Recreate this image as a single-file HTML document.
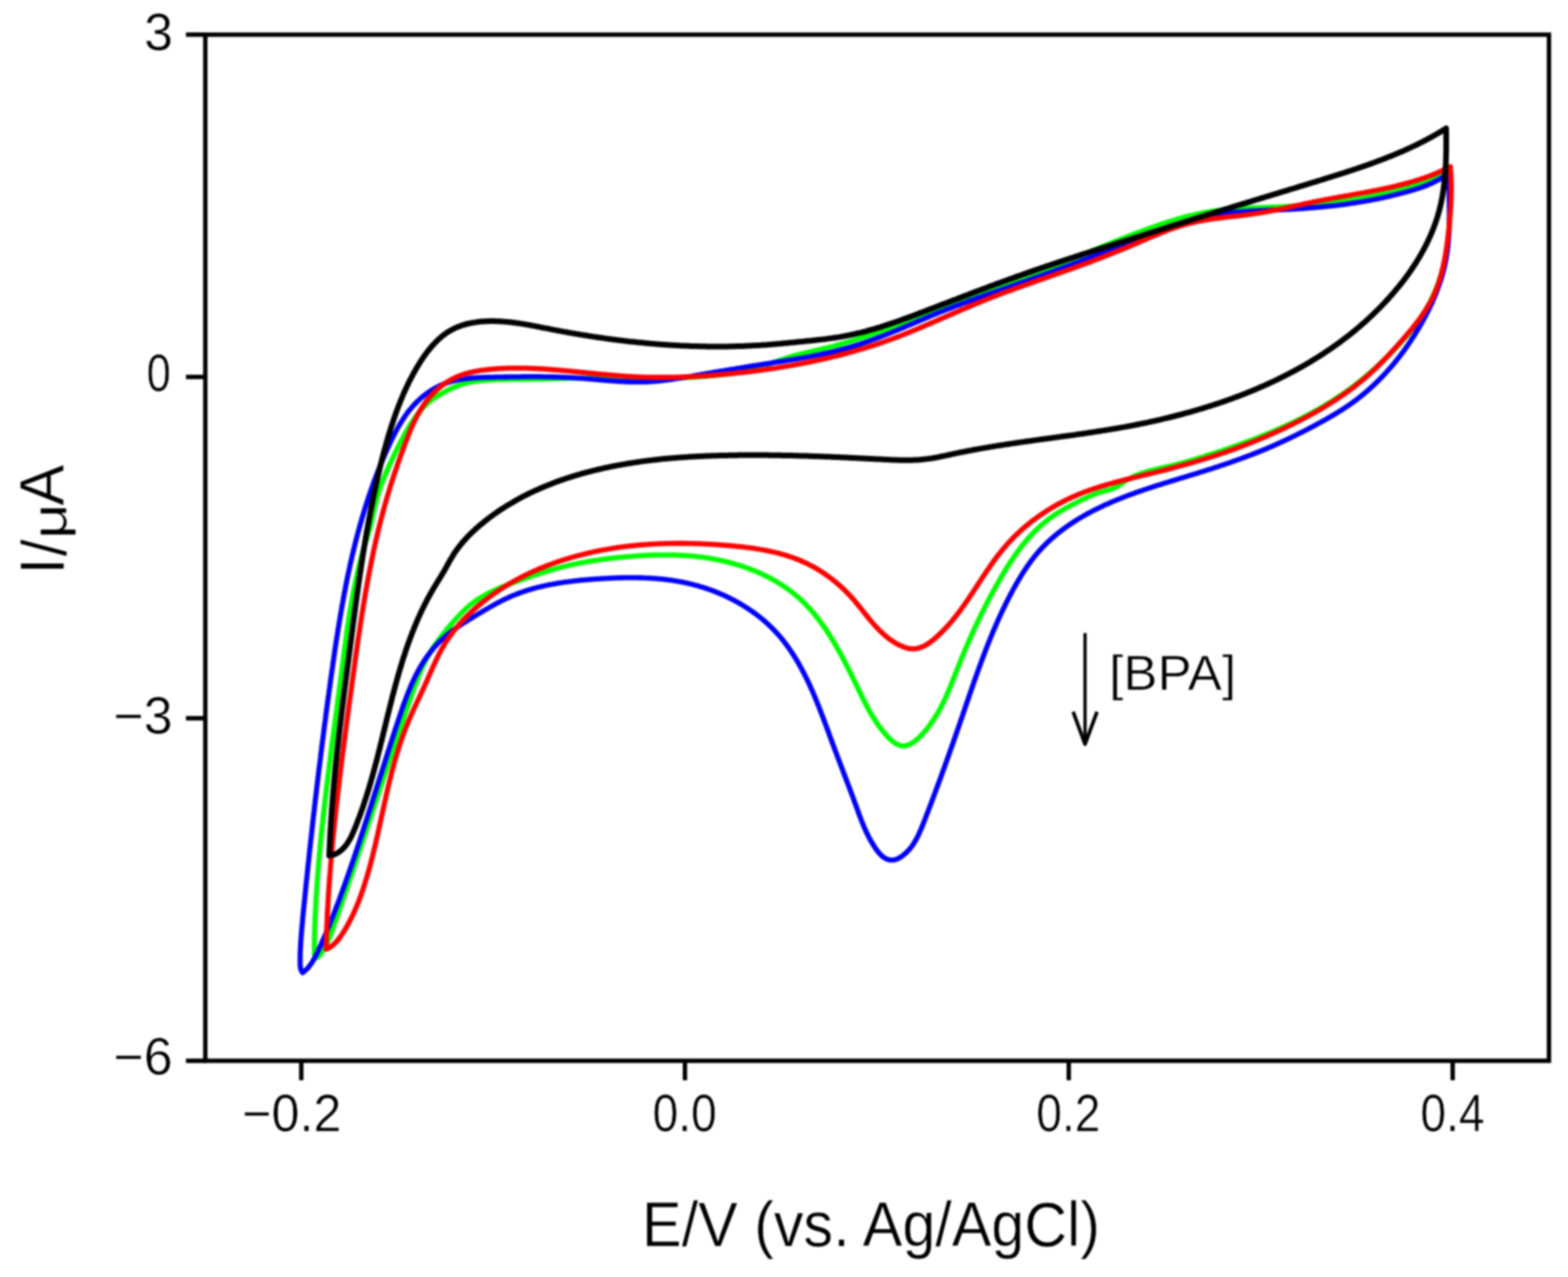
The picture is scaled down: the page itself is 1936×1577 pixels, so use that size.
<!DOCTYPE html>
<html><head><meta charset="utf-8"><style>
html,body{margin:0;padding:0;background:#fff;}
body{width:1936px;height:1577px;overflow:hidden;}
svg{display:block;}
#wrap{filter:blur(0.8px);width:1936px;height:1577px;}
text{font-family:"Liberation Sans",Arial,sans-serif;fill:#000;stroke:#fff;stroke-width:0.6px;paint-order:normal;}
</style></head><body>
<div id="wrap"><svg width="1936" height="1577" viewBox="0 0 1936 1577">
<g id="axes" stroke="#000" stroke-width="5.4" fill="none">
<rect x="253.5" y="42.8" width="1659" height="1267.2"/>
<path d="M229.6 42.8H254M229.6 465.5H254M229.6 887H254M229.6 1310H254"/>
<path d="M372 1310V1334M845.7 1310V1334M1319.6 1310V1334M1793.6 1310V1334"/>
</g>
<g id="ylabels" font-size="64" text-anchor="end">
<text x="213.5" y="61.7">3</text>
<text transform="translate(211,0) scale(0.84,1) translate(-211,0)" x="211" y="483">0</text>
<text x="213" y="905.6">&#8722;3</text>
<text x="213" y="1327.3">&#8722;6</text>
</g>
<g id="xlabels" font-size="64" text-anchor="middle">
<text transform="translate(360.2,0) scale(0.97,1) translate(-360.2,0)" x="360.2" y="1396.8">&#8722;0.2</text>
<text transform="translate(845.3,0) scale(0.89,1) translate(-845.3,0)" x="845.3" y="1396.8">0.0</text>
<text transform="translate(1319.1,0) scale(0.89,1) translate(-1319.1,0)" x="1319.1" y="1396.8">0.2</text>
<text transform="translate(1793.4,0) scale(0.89,1) translate(-1793.4,0)" x="1793.4" y="1396.8">0.4</text>
</g>
<text transform="translate(1075.5,1538.5) scale(0.93,1)" font-size="78.7" text-anchor="middle">E/V (vs. Ag/AgCl)</text>
<g transform="translate(79.3,0) rotate(-90)" font-size="76">
<text x="-709.4" y="0" transform="scale(1,1.03)">I</text>
<text x="-687.1" y="2.4" transform="scale(1,1.03)">/</text>
<text x="-665.6" y="3.7" transform="scale(1,0.8)">&#956;</text>
<text x="-624.6" y="0" transform="scale(1,1.03)">A</text>
</g>
<text transform="translate(1447.9,852.4) scale(1.018,1)" font-size="62" text-anchor="middle">[BPA]</text>
<g id="arrow" stroke="#000" fill="none" stroke-width="4">
<path d="M1339.7 781.7V918"/>
<path d="M1325 879L1339.7 919L1354.5 879" stroke-width="4.5" stroke-linejoin="round"/>
</g>
<g id="curves" fill="none" stroke-linejoin="round" stroke-linecap="round">
<path stroke="#00ff00" stroke-width="6.3" d="M389.0 1183.0L388.7 1181.0 388.5 1179.0 388.4 1177.1 388.3 1175.1 388.2 1173.1 388.2 1171.1 388.2 1169.1 388.2 1167.1 388.2 1165.1 388.3 1163.1 388.3 1161.2 388.3 1159.2 388.4 1157.2 388.4 1155.2 388.4 1153.2 388.5 1151.2 388.5 1149.2 388.6 1147.2 388.7 1145.2 388.7 1143.2 388.8 1141.2 388.9 1139.2 388.9 1137.2 389.0 1135.2 389.1 1133.2 389.2 1131.2 389.3 1129.2 389.4 1127.1 389.5 1125.1 389.6 1123.1 389.7 1121.1 389.8 1119.1 389.9 1117.1 390.0 1115.1 390.1 1113.1 390.2 1111.1 390.3 1109.1 390.4 1107.1 390.6 1105.1 390.7 1103.1 390.8 1101.1 391.0 1099.0 391.1 1097.0 391.2 1095.0 391.4 1093.0 391.5 1091.0 391.6 1089.0 391.8 1087.0 391.9 1085.0 392.1 1083.0 392.2 1081.0 392.4 1079.0 392.6 1077.0 392.7 1075.0 392.9 1073.0 393.0 1071.0 393.2 1069.0 393.4 1067.0 393.5 1065.0 393.7 1063.0 393.9 1061.0 394.1 1059.0 394.2 1057.0 394.4 1055.0 394.6 1053.0 394.8 1051.0 395.0 1049.0 395.1 1047.0 395.3 1045.0 395.5 1043.0 395.7 1041.0 395.9 1039.0 396.1 1037.0 396.3 1035.0 396.5 1033.1 396.7 1031.1 396.9 1029.1 397.1 1027.1 397.3 1025.1 397.5 1023.1 397.7 1021.1 397.9 1019.1 398.2 1017.1 398.4 1015.1 398.6 1013.1 398.8 1011.2 399.0 1009.2 399.2 1007.2 399.5 1005.2 399.7 1003.2 399.9 1001.2 400.1 999.2 400.3 997.2 400.6 995.2 400.8 993.3 401.0 991.3 401.3 989.3 401.5 987.3 401.7 985.3 402.0 983.3 402.2 981.3 402.4 979.3 402.7 977.4 402.9 975.4 403.1 973.4 403.4 971.4 403.6 969.4 403.9 967.4 404.1 965.4 404.4 963.5 404.6 961.5 404.9 959.5 405.1 957.5 405.3 955.5 405.6 953.5 405.8 951.6 406.1 949.6 406.3 947.6 406.6 945.6 406.8 943.6 407.1 941.6 407.4 939.6 407.6 937.7 407.9 935.7 408.1 933.7 408.4 931.7 408.6 929.7 408.9 927.7 409.1 925.8 409.4 923.8 409.7 921.8 409.9 919.8 410.2 917.8 410.4 915.8 410.7 913.9 411.0 911.9 411.2 909.9 411.5 907.9 411.8 905.9 412.0 903.9 412.3 902.0 412.5 900.0 412.8 898.0 413.1 896.0 413.3 894.0 413.6 892.0 413.9 890.0 414.1 888.1 414.4 886.1 414.6 884.1 414.9 882.1 415.2 880.1 415.4 878.1 415.7 876.2 416.0 874.2 416.2 872.2 416.5 870.2 416.8 868.2 417.0 866.2 417.3 864.2 417.5 862.2 417.8 860.3 418.1 858.3 418.3 856.3 418.6 854.3 418.9 852.3 419.1 850.3 419.4 848.3 419.6 846.3 419.9 844.4 420.2 842.4 420.4 840.4 420.7 838.4 420.9 836.4 421.2 834.4 421.5 832.4 421.7 830.4 422.0 828.4 422.2 826.4 422.5 824.5 422.7 822.5 423.0 820.5 423.2 818.5 423.5 816.5 423.8 814.5 424.0 812.5 424.3 810.5 424.5 808.5 424.8 806.5 425.0 804.5 425.3 802.5 425.6 800.6 425.8 798.6 426.1 796.6 426.4 794.6 426.6 792.6 426.9 790.6 427.2 788.6 427.4 786.6 427.7 784.6 428.0 782.6 428.3 780.7 428.5 778.7 428.8 776.7 429.1 774.7 429.4 772.7 429.7 770.7 430.0 768.7 430.3 766.8 430.6 764.8 430.9 762.8 431.2 760.8 431.5 758.8 431.8 756.9 432.1 754.9 432.5 752.9 432.8 750.9 433.1 749.0 433.5 747.0 433.8 745.0 434.1 743.0 434.5 741.1 434.8 739.1 435.2 737.1 435.6 735.2 435.9 733.2 436.3 731.2 436.7 729.3 437.1 727.3 437.5 725.4 437.9 723.4 438.3 721.5 438.7 719.5 439.1 717.5 439.5 715.6 439.9 713.7 440.4 711.7 440.8 709.8 441.3 707.8 441.7 705.9 442.2 703.9 442.6 702.0 443.1 700.1 443.6 698.1 444.1 696.2 444.6 694.3 445.1 692.3 445.6 690.4 446.1 688.5 446.6 686.6 447.2 684.6 447.7 682.7 448.3 680.8 448.8 678.9 449.4 677.0 449.9 675.1 450.5 673.2 451.1 671.2 451.6 669.3 452.2 667.4 452.8 665.5 453.3 663.6 453.9 661.7 454.5 659.8 455.0 657.9 455.6 655.9 456.1 654.0 456.6 652.1 457.2 650.2 457.7 648.2 458.2 646.3 458.7 644.3 459.1 642.4 459.6 640.4 460.0 638.4 460.4 636.4 460.9 634.5 461.3 632.5 461.7 630.5 462.1 628.5 462.6 626.6 463.0 624.6 463.5 622.6 464.0 620.7 464.4 618.7 465.0 616.8 465.5 614.9 466.0 612.9 466.6 611.0 467.2 609.1 467.8 607.2 468.4 605.3 469.0 603.4 469.7 601.5 470.4 599.7 471.0 597.8 471.7 595.9 472.5 594.1 473.2 592.2 473.9 590.4 474.7 588.5 475.4 586.7 476.2 584.9 477.0 583.0 477.8 581.2 478.6 579.4 479.4 577.6 480.2 575.7 481.0 573.9 481.9 572.1 482.7 570.3 483.5 568.5 484.4 566.7 485.3 564.9 486.1 563.0 487.0 561.2 487.9 559.4 488.7 557.6 489.6 555.8 490.5 554.0 491.4 552.2 492.3 550.4 493.2 548.6 494.1 546.8 495.0 545.0 496.0 543.2 496.9 541.4 497.8 539.7 498.8 537.9 499.8 536.1 500.7 534.4 501.7 532.6 502.7 530.9 503.8 529.2 504.8 527.4 505.8 525.7 506.9 524.0 508.0 522.3 509.1 520.7 510.2 519.0 511.3 517.4 512.5 515.7 513.6 514.1 514.8 512.5 516.0 510.9 517.2 509.4 518.5 507.8 519.8 506.3 521.1 504.8 522.4 503.4 523.8 501.9 525.2 500.5 526.6 499.2 528.1 497.8 529.6 496.5 531.1 495.3 532.7 494.0 534.3 492.9 536.0 491.7 537.6 490.6 539.3 489.5 541.1 488.4 542.8 487.4 544.5 486.4 546.3 485.4 548.1 484.4 549.9 483.4 551.7 482.5 553.5 481.6 555.3 480.7 557.1 479.8 558.9 479.0 560.8 478.2 562.6 477.4 564.5 476.6 566.4 475.9 568.2 475.2 570.1 474.6 572.0 474.0 573.9 473.5 575.9 473.0 577.8 472.5 579.7 472.1 581.7 471.7 583.6 471.4 585.6 471.1 587.5 470.8 589.5 470.6 591.5 470.3 593.5 470.1 595.4 469.9 597.4 469.8 599.4 469.6 601.4 469.5 603.4 469.3 605.4 469.2 607.4 469.1 609.4 469.0 611.4 468.9 613.4 468.8 615.4 468.7 617.4 468.7 619.4 468.6 621.4 468.6 623.4 468.5 625.4 468.5 627.4 468.5 629.4 468.4 631.4 468.4 633.5 468.4 635.5 468.4 637.5 468.4 639.5 468.4 641.5 468.3 643.5 468.3 645.5 468.3 647.5 468.3 649.5 468.3 651.5 468.3 653.6 468.3 655.6 468.2 657.6 468.2 659.6 468.2 661.6 468.2 663.6 468.1 665.6 468.1 667.6 468.0 669.6 468.0 671.6 468.0 673.6 467.9 675.6 467.9 677.6 467.8 679.6 467.8 681.6 467.7 683.6 467.7 685.6 467.6 687.6 467.6 689.6 467.5 691.6 467.4 693.6 467.4 695.5 467.3 697.5 467.3 699.5 467.2 701.5 467.2 703.5 467.2 705.5 467.1 707.5 467.1 709.5 467.0 711.5 467.0 713.5 467.0 715.5 466.9 717.5 466.9 719.5 466.9 721.5 466.9 723.5 466.9 725.5 466.9 727.5 466.9 729.5 466.8 731.5 466.8 733.5 466.8 735.5 466.8 737.5 466.8 739.5 466.9 741.5 466.9 743.5 466.9 745.5 466.9 747.5 466.9 749.5 466.9 751.5 466.9 753.5 466.9 755.5 466.9 757.5 467.0 759.5 467.0 761.5 467.0 763.5 467.0 765.5 467.0 767.5 467.1 769.5 467.1 771.5 467.1 773.5 467.1 775.5 467.1 777.5 467.1 779.5 467.2 781.5 467.2 783.5 467.2 785.5 467.2 787.5 467.2 789.5 467.2 791.5 467.2 793.5 467.2 795.5 467.2 797.5 467.2 799.5 467.2 801.5 467.2 803.5 467.2 805.5 467.2 807.5 467.2 809.5 467.2 811.6 467.2 813.6 467.2 815.6 467.2 817.6 467.1 819.6 467.1 821.6 467.1 823.6 467.0 825.6 467.0 827.6 467.0 829.6 466.9 831.6 466.9 833.6 466.8 835.6 466.8 837.6 466.7 839.6 466.6 841.6 466.5 843.6 466.5 845.6 466.4 847.6 466.3 849.6 466.2 851.6 466.1 853.6 466.0 855.6 465.9 857.6 465.8 859.6 465.6 861.6 465.5 863.6 465.4 865.6 465.2 867.6 465.1 869.6 464.9 871.6 464.8 873.6 464.6 875.6 464.4 877.6 464.2 879.6 464.1 881.6 463.9 883.6 463.6 885.6 463.4 887.6 463.2 889.6 463.0 891.6 462.7 893.6 462.5 895.6 462.2 897.6 462.0 899.6 461.7 901.6 461.4 903.5 461.1 905.5 460.8 907.5 460.5 909.5 460.1 911.5 459.8 913.4 459.4 915.4 459.0 917.4 458.6 919.3 458.2 921.3 457.8 923.2 457.3 925.2 456.8 927.1 456.3 929.1 455.8 931.0 455.3 932.9 454.7 934.8 454.2 936.7 453.6 938.7 453.0 940.6 452.4 942.5 451.8 944.4 451.2 946.3 450.6 948.2 449.9 950.0 449.3 951.9 448.6 953.8 448.0 955.7 447.3 957.6 446.7 959.5 446.1 961.4 445.4 963.3 444.8 965.2 444.1 967.1 443.5 969.0 442.9 970.9 442.3 972.8 441.7 974.7 441.1 976.6 440.5 978.5 439.9 980.5 439.4 982.4 438.9 984.3 438.3 986.2 437.8 988.2 437.3 990.1 436.8 992.1 436.4 994.0 435.9 996.0 435.4 997.9 435.0 999.9 434.5 1001.8 434.0 1003.8 433.6 1005.7 433.1 1007.7 432.7 1009.6 432.2 1011.6 431.8 1013.5 431.3 1015.5 430.9 1017.4 430.4 1019.4 429.9 1021.3 429.5 1023.2 429.0 1025.2 428.5 1027.1 428.0 1029.0 427.5 1031.0 427.0 1032.9 426.4 1034.8 425.9 1036.8 425.4 1038.7 424.8 1040.6 424.3 1042.5 423.7 1044.4 423.1 1046.4 422.6 1048.3 422.0 1050.2 421.4 1052.1 420.8 1054.0 420.2 1055.9 419.6 1057.8 419.0 1059.7 418.4 1061.6 417.8 1063.5 417.2 1065.4 416.6 1067.3 415.9 1069.2 415.3 1071.1 414.7 1073.0 414.0 1074.9 413.4 1076.8 412.7 1078.7 412.1 1080.6 411.4 1082.5 410.8 1084.4 410.1 1086.3 409.4 1088.1 408.8 1090.0 408.1 1091.9 407.4 1093.8 406.7 1095.7 406.0 1097.6 405.4 1099.4 404.7 1101.3 404.0 1103.2 403.3 1105.1 402.6 1107.0 401.9 1108.8 401.2 1110.7 400.5 1112.6 399.8 1114.5 399.1 1116.4 398.4 1118.2 397.7 1120.1 397.0 1122.0 396.3 1123.9 395.5 1125.7 394.8 1127.6 394.1 1129.5 393.4 1131.4 392.7 1133.2 392.0 1135.1 391.3 1137.0 390.6 1138.9 389.9 1140.7 389.1 1142.6 388.4 1144.5 387.7 1146.4 387.0 1148.3 386.3 1150.1 385.6 1152.0 384.9 1153.9 384.2 1155.8 383.5 1157.6 382.8 1159.5 382.1 1161.4 381.4 1163.3 380.7 1165.2 380.0 1167.1 379.3 1168.9 378.6 1170.8 377.9 1172.7 377.2 1174.6 376.5 1176.5 375.8 1178.4 375.2 1180.2 374.5 1182.1 373.8 1184.0 373.1 1185.9 372.4 1187.8 371.7 1189.7 371.1 1191.6 370.4 1193.4 369.7 1195.3 369.0 1197.2 368.3 1199.1 367.6 1201.0 367.0 1202.9 366.3 1204.8 365.6 1206.6 364.9 1208.5 364.2 1210.4 363.6 1212.3 362.9 1214.2 362.2 1216.1 361.5 1217.9 360.8 1219.8 360.1 1221.7 359.5 1223.6 358.8 1225.5 358.1 1227.4 357.4 1229.2 356.7 1231.1 356.0 1233.0 355.3 1234.9 354.7 1236.8 354.0 1238.6 353.3 1240.5 352.6 1242.4 351.9 1244.3 351.2 1246.2 350.5 1248.0 349.8 1249.9 349.1 1251.8 348.4 1253.6 347.7 1255.5 347.0 1257.4 346.3 1259.3 345.5 1261.1 344.8 1263.0 344.1 1264.9 343.4 1266.7 342.7 1268.6 342.0 1270.5 341.2 1272.3 340.5 1274.2 339.8 1276.0 339.0 1277.9 338.3 1279.8 337.6 1281.6 336.8 1283.5 336.1 1285.3 335.4 1287.2 334.6 1289.1 333.9 1290.9 333.1 1292.8 332.4 1294.6 331.7 1296.5 330.9 1298.3 330.2 1300.2 329.4 1302.0 328.7 1303.9 327.9 1305.7 327.2 1307.6 326.4 1309.5 325.7 1311.3 324.9 1313.2 324.1 1315.0 323.4 1316.9 322.6 1318.7 321.9 1320.6 321.1 1322.4 320.4 1324.3 319.6 1326.1 318.8 1328.0 318.1 1329.8 317.3 1331.7 316.6 1333.5 315.8 1335.4 315.0 1337.2 314.3 1339.1 313.5 1340.9 312.8 1342.8 312.0 1344.6 311.3 1346.5 310.5 1348.3 309.7 1350.2 309.0 1352.1 308.2 1353.9 307.5 1355.8 306.7 1357.6 306.0 1359.5 305.2 1361.3 304.5 1363.2 303.7 1365.1 303.0 1366.9 302.2 1368.8 301.5 1370.6 300.7 1372.5 300.0 1374.4 299.2 1376.2 298.5 1378.1 297.7 1380.0 297.0 1381.8 296.2 1383.7 295.5 1385.6 294.8 1387.4 294.0 1389.3 293.3 1391.2 292.6 1393.1 291.8 1394.9 291.1 1396.8 290.4 1398.7 289.7 1400.6 288.9 1402.5 288.2 1404.3 287.5 1406.2 286.8 1408.1 286.1 1410.0 285.4 1411.9 284.7 1413.8 284.0 1415.7 283.3 1417.6 282.6 1419.5 281.9 1421.4 281.2 1423.3 280.5 1425.1 279.9 1427.0 279.2 1429.0 278.5 1430.9 277.9 1432.8 277.2 1434.7 276.6 1436.6 276.0 1438.5 275.3 1440.4 274.7 1442.3 274.1 1444.2 273.5 1446.1 272.9 1448.1 272.3 1450.0 271.7 1451.9 271.2 1453.8 270.6 1455.8 270.0 1457.7 269.5 1459.6 269.0 1461.5 268.4 1463.5 267.9 1465.4 267.4 1467.3 266.9 1469.3 266.4 1471.2 266.0 1473.2 265.5 1475.1 265.1 1477.1 264.6 1479.0 264.2 1481.0 263.8 1482.9 263.4 1484.9 263.0 1486.8 262.6 1488.8 262.2 1490.7 261.9 1492.7 261.6 1494.7 261.2 1496.6 260.9 1498.6 260.6 1500.6 260.3 1502.5 260.1 1504.5 259.8 1506.5 259.6 1508.5 259.4 1510.5 259.1 1512.4 258.9 1514.4 258.7 1516.4 258.6 1518.4 258.4 1520.4 258.2 1522.4 258.1 1524.4 257.9 1526.4 257.8 1528.4 257.7 1530.3 257.5 1532.3 257.4 1534.3 257.3 1536.3 257.2 1538.3 257.1 1540.3 257.0 1542.3 256.9 1544.3 256.8 1546.3 256.7 1548.3 256.7 1550.4 256.6 1552.4 256.5 1554.4 256.4 1556.4 256.4 1558.4 256.3 1560.4 256.2 1562.4 256.1 1564.4 256.1 1566.4 256.0 1568.4 255.9 1570.4 255.8 1572.4 255.7 1574.4 255.7 1576.4 255.6 1578.4 255.5 1580.4 255.4 1582.4 255.3 1584.4 255.2 1586.5 255.1 1588.5 254.9 1590.5 254.8 1592.5 254.7 1594.5 254.6 1596.5 254.5 1598.5 254.3 1600.5 254.2 1602.5 254.1 1604.5 253.9 1606.5 253.8 1608.5 253.6 1610.5 253.5 1612.5 253.3 1614.5 253.1 1616.5 253.0 1618.5 252.8 1620.5 252.6 1622.5 252.5 1624.5 252.3 1626.5 252.1 1628.5 251.9 1630.5 251.7 1632.5 251.5 1634.5 251.3 1636.4 251.1 1638.4 250.8 1640.4 250.6 1642.4 250.4 1644.4 250.1 1646.4 249.9 1648.4 249.7 1650.4 249.4 1652.4 249.2 1654.3 248.9 1656.3 248.6 1658.3 248.4 1660.3 248.1 1662.3 247.8 1664.3 247.5 1666.2 247.2 1668.2 246.9 1670.2 246.6 1672.2 246.3 1674.2 246.0 1676.1 245.7 1678.1 245.3 1680.1 245.0 1682.1 244.7 1684.0 244.3 1686.0 244.0 1688.0 243.6 1689.9 243.2 1691.9 242.9 1693.9 242.5 1695.8 242.1 1697.8 241.7 1699.8 241.3 1701.7 240.9 1703.7 240.5 1705.6 240.1 1707.6 239.6 1709.5 239.2 1711.5 238.8 1713.4 238.3 1715.4 237.9 1717.3 237.4 1719.3 236.9 1721.2 236.5 1723.2 236.0 1725.1 235.5 1727.1 235.0 1729.0 234.5 1730.9 234.0 1732.9 233.4 1734.8 232.9 1736.8 232.4 1738.7 231.8 1740.6 231.3 1742.6 230.7 1744.5 230.2 1746.4 229.6 1748.3 229.0 1750.2 228.4 1752.1 227.8 1754.0 227.1 1755.9 226.5 1757.8 225.8 1759.7 225.1 1761.6 224.4 1763.4 223.7 1765.3 222.9 1767.1 222.2 1768.9 221.3 1770.8 220.5 1772.5 219.6 1774.3 218.7 1776.1 217.8 1777.8 216.8 1779.6 215.8 1781.3 214.8 1783.0 213.7 1784.6 212.6 1786.3 211.4 1787.9 210.2 1789.5 209.0 1789.6 211.0 1789.6 213.0 1789.7 214.9 1789.8 216.9 1789.8 218.9 1789.9 220.9 1790.0 222.9 1790.0 224.9 1790.1 226.9 1790.1 228.9 1790.2 230.9 1790.2 232.9 1790.3 234.9 1790.3 236.9 1790.3 238.9 1790.4 240.9 1790.4 242.9 1790.4 244.9 1790.4 246.9 1790.4 248.9 1790.4 251.0 1790.4 253.0 1790.4 255.0 1790.4 257.0 1790.4 259.0 1790.3 261.0 1790.3 263.0 1790.2 265.0 1790.2 267.0 1790.1 269.0 1790.0 271.1 1789.9 273.1 1789.8 275.1 1789.7 277.1 1789.6 279.1 1789.5 281.1 1789.3 283.1 1789.2 285.1 1789.0 287.1 1788.8 289.1 1788.6 291.1 1788.4 293.1 1788.2 295.1 1788.0 297.1 1787.7 299.1 1787.5 301.1 1787.2 303.0 1786.9 305.0 1786.6 307.0 1786.3 309.0 1786.0 311.0 1785.6 312.9 1785.3 314.9 1784.9 316.9 1784.5 318.8 1784.1 320.8 1783.6 322.8 1783.2 324.7 1782.7 326.7 1782.2 328.6 1781.8 330.5 1781.2 332.5 1780.7 334.4 1780.2 336.3 1779.6 338.3 1779.0 340.2 1778.4 342.1 1777.8 344.0 1777.2 345.9 1776.5 347.8 1775.9 349.6 1775.2 351.5 1774.5 353.4 1773.7 355.2 1773.0 357.1 1772.2 358.9 1771.5 360.8 1770.7 362.6 1769.9 364.4 1769.0 366.2 1768.2 368.0 1767.3 369.8 1766.4 371.6 1765.5 373.4 1764.6 375.1 1763.6 376.9 1762.7 378.6 1761.7 380.4 1760.7 382.1 1759.7 383.8 1758.6 385.5 1757.6 387.2 1756.5 388.9 1755.4 390.5 1754.3 392.2 1753.2 393.9 1752.0 395.5 1750.9 397.1 1749.7 398.7 1748.5 400.4 1747.3 402.0 1746.1 403.6 1744.9 405.1 1743.6 406.7 1742.4 408.3 1741.1 409.8 1739.8 411.4 1738.5 412.9 1737.2 414.5 1735.9 416.0 1734.6 417.5 1733.2 419.0 1731.9 420.5 1730.6 422.0 1729.2 423.5 1727.8 425.0 1726.5 426.5 1725.1 428.0 1723.7 429.4 1722.3 430.9 1720.9 432.3 1719.5 433.8 1718.1 435.2 1716.7 436.7 1715.3 438.1 1713.8 439.5 1712.4 440.9 1711.0 442.3 1709.5 443.8 1708.1 445.2 1706.6 446.5 1705.2 447.9 1703.7 449.3 1702.3 450.7 1700.8 452.0 1699.3 453.4 1697.8 454.7 1696.4 456.1 1694.9 457.4 1693.4 458.7 1691.9 460.1 1690.4 461.4 1688.8 462.7 1687.3 464.0 1685.8 465.3 1684.3 466.5 1682.7 467.8 1681.2 469.1 1679.6 470.3 1678.1 471.6 1676.5 472.8 1674.9 474.0 1673.4 475.2 1671.8 476.4 1670.2 477.6 1668.6 478.8 1667.0 480.0 1665.4 481.2 1663.8 482.3 1662.1 483.5 1660.5 484.6 1658.9 485.8 1657.2 486.9 1655.6 488.0 1653.9 489.1 1652.3 490.3 1650.6 491.3 1648.9 492.4 1647.3 493.5 1645.6 494.6 1643.9 495.6 1642.2 496.7 1640.5 497.8 1638.8 498.8 1637.1 499.8 1635.4 500.8 1633.7 501.9 1631.9 502.9 1630.2 503.9 1628.5 504.9 1626.8 505.9 1625.0 506.8 1623.3 507.8 1621.5 508.8 1619.8 509.7 1618.0 510.7 1616.2 511.6 1614.5 512.6 1612.7 513.5 1610.9 514.4 1609.2 515.3 1607.4 516.2 1605.6 517.1 1603.8 518.0 1602.0 518.9 1600.2 519.8 1598.4 520.7 1596.6 521.6 1594.8 522.4 1593.0 523.3 1591.2 524.1 1589.3 525.0 1587.5 525.8 1585.7 526.7 1583.9 527.5 1582.0 528.3 1580.2 529.1 1578.4 529.9 1576.5 530.7 1574.7 531.5 1572.8 532.3 1571.0 533.1 1569.1 533.9 1567.3 534.7 1565.4 535.4 1563.6 536.2 1561.7 537.0 1559.8 537.7 1558.0 538.5 1556.1 539.2 1554.2 540.0 1552.4 540.7 1550.5 541.4 1548.6 542.2 1546.7 542.9 1544.9 543.6 1543.0 544.3 1541.1 545.0 1539.2 545.7 1537.3 546.4 1535.4 547.1 1533.6 547.8 1531.7 548.5 1529.8 549.2 1527.9 549.9 1526.0 550.5 1524.1 551.2 1522.2 551.9 1520.3 552.5 1518.4 553.2 1516.5 553.8 1514.6 554.5 1512.7 555.1 1510.8 555.8 1509.0 556.4 1507.1 557.1 1505.2 557.7 1503.3 558.3 1501.4 558.9 1499.5 559.6 1497.6 560.2 1495.7 560.8 1493.8 561.4 1491.9 562.0 1490.0 562.6 1488.1 563.2 1486.2 563.8 1484.3 564.4 1482.4 565.0 1480.5 565.6 1478.6 566.2 1476.7 566.8 1474.8 567.4 1472.9 567.9 1471.0 568.5 1469.1 569.1 1467.2 569.6 1465.2 570.2 1463.3 570.7 1461.4 571.2 1459.5 571.8 1457.6 572.3 1455.6 572.8 1453.7 573.3 1451.8 573.8 1449.8 574.3 1447.9 574.8 1445.9 575.2 1444.0 575.7 1442.0 576.2 1440.0 576.6 1438.1 577.1 1436.1 577.5 1434.1 577.9 1432.1 578.4 1430.2 578.8 1428.2 579.3 1426.2 579.8 1424.3 580.3 1422.3 580.7 1420.4 581.3 1418.4 581.8 1416.5 582.3 1414.6 582.9 1412.7 583.5 1410.8 584.1 1408.9 584.7 1407.0 585.4 1405.1 586.1 1403.3 586.9 1401.5 587.6 1399.7 588.4 1397.9 589.3 1396.1 590.2 1394.3 591.1 1392.6 592.1 1390.9 593.1 1389.2 594.2 1387.5 595.3 1385.9 596.5 1384.2 597.6 1382.6 598.8 1380.9 599.9 1379.2 600.9 1377.4 601.9 1375.6 602.7 1373.7 603.5 1371.8 604.2 1369.9 604.8 1367.9 605.3 1366.0 605.8 1364.0 606.3 1362.0 606.8 1360.1 607.4 1358.2 608.0 1356.3 608.6 1354.4 609.2 1352.6 609.9 1350.8 610.6 1348.9 611.4 1347.1 612.1 1345.3 612.9 1343.5 613.7 1341.8 614.5 1340.0 615.3 1338.2 616.2 1336.4 617.0 1334.6 617.9 1332.8 618.8 1331.0 619.7 1329.2 620.6 1327.4 621.5 1325.6 622.4 1323.8 623.3 1322.0 624.3 1320.2 625.2 1318.4 626.2 1316.6 627.1 1314.9 628.1 1313.1 629.1 1311.3 630.2 1309.6 631.2 1307.8 632.2 1306.1 633.3 1304.4 634.4 1302.7 635.5 1301.0 636.6 1299.4 637.8 1297.8 639.0 1296.1 640.1 1294.5 641.3 1293.0 642.6 1291.4 643.8 1289.9 645.1 1288.3 646.3 1286.8 647.6 1285.3 648.9 1283.9 650.3 1282.4 651.6 1281.0 653.0 1279.5 654.4 1278.1 655.7 1276.7 657.2 1275.3 658.6 1274.0 660.0 1272.6 661.5 1271.3 662.9 1270.0 664.4 1268.7 665.9 1267.4 667.4 1266.1 668.9 1264.8 670.5 1263.6 672.0 1262.3 673.6 1261.1 675.1 1259.9 676.7 1258.7 678.3 1257.5 679.9 1256.3 681.5 1255.2 683.1 1254.0 684.7 1252.8 686.4 1251.7 688.0 1250.6 689.7 1249.5 691.3 1248.3 693.0 1247.2 694.7 1246.2 696.4 1245.1 698.1 1244.0 699.7 1242.9 701.5 1241.9 703.2 1240.8 704.9 1239.8 706.6 1238.7 708.3 1237.7 710.1 1236.7 711.8 1235.7 713.5 1234.7 715.3 1233.7 717.0 1232.7 718.8 1231.7 720.5 1230.7 722.3 1229.7 724.0 1228.7 725.8 1227.8 727.6 1226.8 729.3 1225.8 731.1 1224.9 732.9 1223.9 734.6 1223.0 736.4 1222.0 738.2 1221.1 740.0 1220.2 741.7 1219.2 743.5 1218.3 745.3 1217.4 747.1 1216.5 748.9 1215.6 750.7 1214.7 752.5 1213.8 754.3 1212.9 756.1 1212.0 757.9 1211.1 759.7 1210.2 761.5 1209.3 763.3 1208.5 765.1 1207.6 766.9 1206.7 768.7 1205.9 770.5 1205.0 772.3 1204.2 774.1 1203.3 776.0 1202.5 777.8 1201.7 779.6 1200.8 781.4 1200.0 783.2 1199.2 785.1 1198.4 786.9 1197.6 788.7 1196.8 790.6 1196.0 792.4 1195.2 794.2 1194.4 796.0 1193.6 797.9 1192.8 799.7 1192.0 801.6 1191.2 803.4 1190.5 805.2 1189.7 807.1 1188.9 808.9 1188.2 810.8 1187.4 812.6 1186.7 814.4 1185.9 816.3 1185.2 818.1 1184.4 820.0 1183.7 821.8 1183.0 823.7 1182.2 825.5 1181.5 827.4 1180.8 829.2 1180.1 831.1 1179.3 832.9 1178.6 834.8 1177.9 836.6 1177.2 838.5 1176.4 840.3 1175.7 842.2 1175.0 844.0 1174.2 845.9 1173.5 847.7 1172.7 849.5 1172.0 851.4 1171.2 853.2 1170.4 855.0 1169.6 856.8 1168.8 858.7 1168.0 860.5 1167.2 862.3 1166.3 864.1 1165.5 865.9 1164.6 867.7 1163.7 869.5 1162.8 871.3 1161.9 873.0 1160.9 874.8 1160.0 876.6 1159.0 878.3 1158.0 880.1 1157.0 881.8 1155.9 883.6 1154.9 885.3 1153.8 887.0 1152.7 888.7 1151.5 890.4 1150.3 892.1 1149.1 893.8 1147.9 895.5 1146.7 897.2 1145.4 898.8 1144.1 900.5 1142.7 902.1 1141.3 903.7 1139.9 905.3 1138.5 906.9 1137.0 908.5 1135.5 910.0 1134.0 911.5 1132.4 912.9 1130.8 914.3 1129.3 915.5 1127.6 916.7 1126.0 917.7 1124.4 918.7 1122.7 919.5 1121.1 920.1 1119.4 920.6 1117.8 921.0 1116.1 921.1 1114.4 921.1 1112.8 920.9 1111.1 920.5 1109.5 919.9 1107.8 919.2 1106.2 918.3 1104.6 917.3 1103.0 916.1 1101.4 914.9 1099.9 913.5 1098.3 912.1 1096.8 910.6 1095.3 909.0 1093.9 907.4 1092.5 905.7 1091.1 904.0 1089.7 902.4 1088.4 900.7 1087.1 899.0 1085.8 897.3 1084.6 895.6 1083.4 893.9 1082.2 892.2 1081.1 890.5 1080.0 888.8 1078.9 887.1 1077.8 885.4 1076.8 883.7 1075.8 882.0 1074.8 880.2 1073.8 878.5 1072.8 876.8 1071.9 875.1 1071.0 873.4 1070.1 871.7 1069.1 869.9 1068.3 868.2 1067.4 866.5 1066.5 864.7 1065.6 863.0 1064.8 861.3 1063.9 859.5 1063.0 857.8 1062.2 856.0 1061.3 854.2 1060.5 852.5 1059.6 850.7 1058.8 848.9 1057.9 847.1 1057.0 845.4 1056.2 843.6 1055.3 841.8 1054.4 840.0 1053.5 838.2 1052.7 836.4 1051.8 834.6 1050.9 832.8 1050.0 831.0 1049.1 829.2 1048.2 827.4 1047.3 825.6 1046.4 823.8 1045.4 822.0 1044.5 820.2 1043.6 818.4 1042.7 816.6 1041.7 814.8 1040.8 813.0 1039.8 811.2 1038.8 809.4 1037.9 807.6 1036.9 805.9 1035.9 804.1 1034.9 802.3 1033.9 800.5 1032.9 798.8 1031.9 797.0 1030.9 795.3 1029.9 793.5 1028.8 791.8 1027.8 790.0 1026.7 788.3 1025.6 786.6 1024.6 784.9 1023.5 783.2 1022.4 781.5 1021.3 779.8 1020.2 778.1 1019.0 776.4 1017.9 774.8 1016.7 773.1 1015.6 771.5 1014.4 769.9 1013.2 768.2 1012.0 766.6 1010.8 765.0 1009.6 763.5 1008.3 761.9 1007.1 760.3 1005.8 758.8 1004.6 757.3 1003.3 755.7 1002.0 754.2 1000.7 752.7 999.3 751.3 998.0 749.8 996.6 748.4 995.3 746.9 993.9 745.5 992.5 744.1 991.1 742.8 989.6 741.4 988.2 740.0 986.7 738.7 985.2 737.4 983.7 736.1 982.2 734.8 980.7 733.6 979.2 732.4 977.6 731.1 976.0 729.9 974.5 728.7 972.9 727.6 971.2 726.4 969.6 725.3 968.0 724.2 966.3 723.1 964.7 722.0 963.0 720.9 961.3 719.9 959.6 718.9 957.9 717.8 956.2 716.9 954.4 715.9 952.7 714.9 950.9 714.0 949.1 713.0 947.4 712.1 945.6 711.2 943.8 710.3 942.0 709.5 940.2 708.6 938.3 707.8 936.5 707.0 934.7 706.2 932.8 705.4 930.9 704.7 929.1 703.9 927.2 703.2 925.3 702.5 923.4 701.8 921.5 701.1 919.6 700.4 917.7 699.7 915.8 699.1 913.9 698.5 912.0 697.9 910.0 697.3 908.1 696.7 906.2 696.2 904.2 695.6 902.3 695.1 900.3 694.6 898.4 694.1 896.4 693.6 894.4 693.1 892.5 692.7 890.5 692.2 888.5 691.8 886.5 691.4 884.6 691.0 882.6 690.6 880.6 690.2 878.6 689.9 876.6 689.6 874.7 689.2 872.7 688.9 870.7 688.6 868.7 688.4 866.7 688.1 864.7 687.8 862.7 687.6 860.7 687.4 858.7 687.1 856.7 686.9 854.8 686.8 852.8 686.6 850.8 686.4 848.8 686.3 846.8 686.1 844.8 686.0 842.8 685.9 840.8 685.8 838.8 685.7 836.8 685.6 834.8 685.5 832.8 685.4 830.8 685.4 828.7 685.3 826.7 685.3 824.7 685.3 822.7 685.3 820.7 685.3 818.7 685.3 816.7 685.3 814.7 685.3 812.7 685.4 810.7 685.4 808.7 685.4 806.7 685.5 804.7 685.6 802.7 685.6 800.7 685.7 798.7 685.8 796.7 685.9 794.7 686.0 792.7 686.1 790.7 686.3 788.7 686.4 786.7 686.5 784.7 686.7 782.7 686.8 780.7 687.0 778.7 687.1 776.7 687.3 774.7 687.5 772.7 687.6 770.7 687.8 768.7 688.0 766.7 688.2 764.7 688.4 762.7 688.6 760.7 688.8 758.7 689.0 756.7 689.2 754.8 689.5 752.8 689.7 750.8 689.9 748.8 690.2 746.8 690.4 744.8 690.7 742.9 690.9 740.9 691.2 738.9 691.5 736.9 691.8 735.0 692.1 733.0 692.4 731.0 692.7 729.0 693.0 727.1 693.3 725.1 693.7 723.1 694.0 721.2 694.4 719.2 694.7 717.3 695.1 715.3 695.5 713.3 695.9 711.4 696.3 709.4 696.7 707.5 697.1 705.5 697.5 703.6 697.9 701.6 698.4 699.7 698.8 697.8 699.3 695.8 699.8 693.9 700.2 691.9 700.7 690.0 701.3 688.1 701.8 686.1 702.3 684.2 702.8 682.3 703.4 680.4 703.9 678.4 704.5 676.5 705.1 674.6 705.7 672.7 706.2 670.8 706.8 668.9 707.4 667.0 708.1 665.0 708.7 663.1 709.3 661.2 709.9 659.3 710.6 657.4 711.2 655.5 711.9 653.6 712.5 651.7 713.2 649.8 713.8 647.9 714.5 646.0 715.2 644.1 715.8 642.2 716.5 640.3 717.2 638.4 717.8 636.6 718.5 634.7 719.2 632.8 719.9 630.9 720.6 629.0 721.3 627.2 722.0 625.3 722.7 623.4 723.4 621.6 724.2 619.7 724.9 617.9 725.7 616.0 726.5 614.2 727.2 612.4 728.1 610.6 728.9 608.8 729.7 607.0 730.6 605.2 731.4 603.5 732.3 601.7 733.2 600.0 734.2 598.2 735.1 596.5 736.1 594.8 737.1 593.1 738.1 591.5 739.2 589.8 740.3 588.2 741.4 586.6 742.5 585.0 743.7 583.4 744.9 581.8 746.1 580.3 747.3 578.7 748.6 577.2 749.9 575.7 751.3 574.2 752.7 572.8 754.0 571.3 755.5 569.9 756.9 568.5 758.3 567.1 759.8 565.7 761.3 564.3 762.8 562.9 764.3 561.6 765.8 560.2 767.3 558.9 768.9 557.6 770.4 556.2 772.0 554.9 773.5 553.6 775.0 552.3 776.6 551.0 778.2 549.8 779.7 548.5 781.3 547.2 782.8 546.0 784.4 544.8 786.0 543.5 787.6 542.3 789.1 541.1 790.7 540.0 792.3 538.8 794.0 537.7 795.6 536.5 797.2 535.4 798.8 534.3 800.5 533.3 802.1 532.2 803.8 531.2 805.5 530.2 807.2 529.2 808.9 528.2 810.6 527.3 812.4 526.3 814.1 525.4 815.9 524.5 817.6 523.6 819.4 522.8 821.2 521.9 823.0 521.1 824.8 520.3 826.7 519.5 828.5 518.7 830.3 518.0 832.2 517.2 834.0 516.4 835.9 515.7 837.7 515.0 839.6 514.3 841.5 513.6 843.4 512.9 845.3 512.2 847.1 511.5 849.0 510.8 850.9 510.1 852.8 509.4 854.7 508.8 856.6 508.1 858.5 507.4 860.4 506.8 862.3 506.1 864.2 505.4 866.1 504.8 868.0 504.1 869.9 503.4 871.8 502.8 873.7 502.1 875.6 501.5 877.5 500.8 879.4 500.2 881.3 499.5 883.2 498.9 885.1 498.2 887.0 497.6 888.9 496.9 890.8 496.3 892.7 495.6 894.6 495.0 896.5 494.3 898.4 493.7 900.3 493.0 902.2 492.4 904.1 491.7 906.0 491.1 907.9 490.5 909.8 489.8 911.7 489.2 913.6 488.6 915.5 487.9 917.4 487.3 919.3 486.6 921.2 486.0 923.1 485.4 925.0 484.7 926.9 484.1 928.8 483.5 930.7 482.8 932.6 482.2 934.5 481.6 936.4 481.0 938.3 480.3 940.2 479.7 942.1 479.1 944.0 478.4 945.9 477.8 947.8 477.2 949.7 476.6 951.6 475.9 953.5 475.3 955.3 474.7 957.2 474.1 959.1 473.4 961.0 472.8 962.9 472.2 964.8 471.5 966.7 470.9 968.6 470.3 970.5 469.7 972.4 469.1 974.3 468.4 976.2 467.8 978.1 467.2 980.0 466.6 981.9 465.9 983.8 465.3 985.7 464.7 987.6 464.1 989.5 463.4 991.4 462.8 993.3 462.2 995.2 461.6 997.1 460.9 999.0 460.3 1000.9 459.7 1002.8 459.1 1004.7 458.4 1006.6 457.8 1008.5 457.2 1010.4 456.6 1012.2 455.9 1014.1 455.3 1016.0 454.7 1017.9 454.1 1019.8 453.4 1021.7 452.8 1023.6 452.2 1025.5 451.5 1027.4 450.9 1029.3 450.3 1031.2 449.7 1033.1 449.0 1035.0 448.4 1036.9 447.8 1038.8 447.1 1040.7 446.5 1042.6 445.9 1044.5 445.2 1046.4 444.6 1048.3 444.0 1050.2 443.3 1052.1 442.7 1054.0 442.1 1055.9 441.4 1057.8 440.8 1059.7 440.2 1061.6 439.5 1063.5 438.9 1065.4 438.3 1067.3 437.6 1069.1 437.0 1071.0 436.4 1072.9 435.7 1074.8 435.1 1076.7 434.4 1078.6 433.8 1080.5 433.2 1082.4 432.5 1084.3 431.9 1086.2 431.2 1088.1 430.6 1090.0 429.9 1091.9 429.3 1093.8 428.6 1095.7 428.0 1097.6 427.3 1099.5 426.7 1101.4 426.0 1103.3 425.4 1105.2 424.7 1107.1 424.1 1109.0 423.4 1110.9 422.8 1112.8 422.1 1114.8 421.5 1116.7 420.8 1118.6 420.2 1120.5 419.5 1122.4 418.8 1124.3 418.2 1126.2 417.5 1128.1 416.9 1130.0 416.2 1131.9 415.5 1133.8 414.9 1135.7 414.2 1137.6 413.5 1139.5 412.9 1141.4 412.2 1143.3 411.5 1145.2 410.8 1147.1 410.2 1149.0 409.5 1150.9 408.7 1152.8 408.0 1154.6 407.3 1156.5 406.5 1158.3 405.8 1160.2 405.0 1162.0 404.1 1163.8 403.3 1165.5 402.4 1167.3 401.5 1169.0 400.6 1170.7 399.6 1172.4 398.6 1174.0 397.6 1175.7 396.5 1177.3 395.4 1178.8 394.2 1180.3 392.9 1181.6 391.2 1182.6 389.0 1183.0"/>
<path stroke="#0000ff" stroke-width="6.3" d="M373.7 1201.1L372.6 1199.5 371.7 1197.8 371.2 1196.0 370.8 1194.2 370.7 1192.3 370.6 1190.4 370.6 1188.5 370.6 1186.5 370.6 1184.6 370.6 1182.6 370.6 1180.7 370.7 1178.7 370.7 1176.8 370.8 1174.8 370.9 1172.8 371.0 1170.9 371.1 1168.9 371.2 1166.9 371.3 1164.9 371.4 1162.9 371.5 1160.9 371.7 1158.9 371.8 1156.9 372.0 1154.9 372.1 1152.9 372.3 1150.9 372.5 1148.9 372.6 1146.9 372.8 1144.9 373.0 1142.9 373.2 1140.9 373.4 1138.9 373.6 1136.9 373.7 1134.9 373.9 1132.9 374.1 1130.8 374.3 1128.8 374.5 1126.8 374.7 1124.8 374.9 1122.8 375.1 1120.8 375.3 1118.8 375.5 1116.8 375.7 1114.8 375.9 1112.8 376.1 1110.8 376.3 1108.8 376.5 1106.8 376.7 1104.8 376.9 1102.7 377.1 1100.7 377.3 1098.7 377.5 1096.7 377.7 1094.7 377.9 1092.7 378.1 1090.7 378.3 1088.7 378.5 1086.7 378.8 1084.7 379.0 1082.7 379.2 1080.7 379.4 1078.7 379.6 1076.7 379.8 1074.7 380.0 1072.7 380.2 1070.7 380.4 1068.8 380.6 1066.8 380.8 1064.8 381.1 1062.8 381.3 1060.8 381.5 1058.8 381.7 1056.8 381.9 1054.8 382.1 1052.8 382.3 1050.8 382.5 1048.8 382.8 1046.8 383.0 1044.8 383.2 1042.8 383.4 1040.8 383.6 1038.9 383.8 1036.9 384.1 1034.9 384.3 1032.9 384.5 1030.9 384.7 1028.9 384.9 1026.9 385.2 1024.9 385.4 1022.9 385.6 1021.0 385.8 1019.0 386.0 1017.0 386.3 1015.0 386.5 1013.0 386.7 1011.0 386.9 1009.0 387.2 1007.0 387.4 1005.1 387.6 1003.1 387.9 1001.1 388.1 999.1 388.3 997.1 388.5 995.1 388.8 993.1 389.0 991.2 389.2 989.2 389.5 987.2 389.7 985.2 389.9 983.2 390.2 981.2 390.4 979.3 390.6 977.3 390.9 975.3 391.1 973.3 391.3 971.3 391.6 969.3 391.8 967.4 392.0 965.4 392.3 963.4 392.5 961.4 392.7 959.4 393.0 957.4 393.2 955.5 393.5 953.5 393.7 951.5 393.9 949.5 394.2 947.5 394.4 945.6 394.7 943.6 394.9 941.6 395.2 939.6 395.4 937.6 395.7 935.6 395.9 933.7 396.1 931.7 396.4 929.7 396.6 927.7 396.9 925.7 397.1 923.8 397.4 921.8 397.6 919.8 397.9 917.8 398.1 915.8 398.4 913.9 398.6 911.9 398.9 909.9 399.2 907.9 399.4 905.9 399.7 903.9 399.9 902.0 400.2 900.0 400.4 898.0 400.7 896.0 400.9 894.0 401.2 892.1 401.5 890.1 401.7 888.1 402.0 886.1 402.2 884.1 402.5 882.2 402.8 880.2 403.0 878.2 403.3 876.2 403.6 874.2 403.8 872.2 404.1 870.3 404.4 868.3 404.6 866.3 404.9 864.3 405.2 862.3 405.4 860.3 405.7 858.4 406.0 856.4 406.2 854.4 406.5 852.4 406.8 850.4 407.1 848.4 407.3 846.5 407.6 844.5 407.9 842.5 408.1 840.5 408.4 838.5 408.7 836.5 409.0 834.5 409.3 832.6 409.5 830.6 409.8 828.6 410.1 826.6 410.4 824.6 410.7 822.6 410.9 820.6 411.2 818.6 411.5 816.7 411.8 814.7 412.1 812.7 412.4 810.7 412.7 808.7 413.0 806.7 413.2 804.7 413.5 802.8 413.8 800.8 414.1 798.8 414.4 796.8 414.7 794.8 415.0 792.8 415.3 790.8 415.6 788.9 415.9 786.9 416.3 784.9 416.6 782.9 416.9 780.9 417.2 778.9 417.5 776.9 417.8 775.0 418.2 773.0 418.5 771.0 418.8 769.0 419.1 767.0 419.5 765.1 419.8 763.1 420.1 761.1 420.5 759.1 420.8 757.1 421.1 755.2 421.5 753.2 421.8 751.2 422.2 749.2 422.5 747.3 422.9 745.3 423.2 743.3 423.6 741.3 423.9 739.4 424.3 737.4 424.7 735.4 425.0 733.4 425.4 731.5 425.8 729.5 426.2 727.5 426.6 725.6 426.9 723.6 427.3 721.6 427.7 719.7 428.1 717.7 428.5 715.7 428.9 713.8 429.3 711.8 429.7 709.8 430.1 707.9 430.5 705.9 431.0 704.0 431.4 702.0 431.8 700.1 432.2 698.1 432.7 696.1 433.1 694.2 433.5 692.2 434.0 690.3 434.4 688.3 434.9 686.4 435.3 684.4 435.8 682.5 436.3 680.6 436.7 678.6 437.2 676.7 437.7 674.7 438.2 672.8 438.6 670.9 439.1 668.9 439.6 667.0 440.1 665.0 440.6 663.1 441.1 661.2 441.6 659.2 442.1 657.3 442.7 655.4 443.2 653.5 443.7 651.5 444.2 649.6 444.8 647.7 445.3 645.8 445.9 643.9 446.4 641.9 447.0 640.0 447.5 638.1 448.1 636.2 448.7 634.3 449.3 632.4 449.8 630.5 450.4 628.6 451.0 626.7 451.6 624.8 452.2 622.9 452.8 621.0 453.4 619.1 454.1 617.2 454.7 615.3 455.3 613.4 455.9 611.5 456.6 609.6 457.2 607.7 457.9 605.9 458.5 604.0 459.2 602.1 459.9 600.2 460.5 598.3 461.2 596.5 461.9 594.6 462.6 592.7 463.3 590.9 464.0 589.0 464.7 587.1 465.4 585.3 466.1 583.4 466.9 581.5 467.6 579.7 468.3 577.8 469.1 576.0 469.8 574.1 470.6 572.3 471.4 570.4 472.1 568.6 472.9 566.8 473.7 564.9 474.5 563.1 475.3 561.3 476.1 559.4 476.9 557.6 477.7 555.8 478.5 553.9 479.4 552.1 480.2 550.3 481.0 548.5 481.9 546.7 482.8 544.8 483.6 543.0 484.5 541.2 485.4 539.4 486.3 537.6 487.2 535.8 488.1 534.1 489.0 532.3 490.0 530.5 490.9 528.8 491.9 527.0 492.9 525.3 493.9 523.6 495.0 521.8 496.0 520.1 497.1 518.5 498.2 516.8 499.3 515.1 500.4 513.5 501.6 511.8 502.7 510.2 503.9 508.6 505.2 507.1 506.4 505.5 507.7 504.0 509.0 502.4 510.4 500.9 511.7 499.5 513.1 498.0 514.5 496.6 515.9 495.2 517.4 493.8 518.9 492.4 520.4 491.1 521.9 489.8 523.5 488.5 525.1 487.3 526.7 486.1 528.3 484.9 529.9 483.8 531.6 482.7 533.2 481.6 534.9 480.6 536.7 479.6 538.4 478.6 540.1 477.7 541.9 476.8 543.7 476.0 545.5 475.2 547.3 474.4 549.2 473.7 551.0 473.0 552.9 472.4 554.8 471.8 556.6 471.3 558.5 470.7 560.5 470.3 562.4 469.8 564.3 469.4 566.3 469.0 568.2 468.7 570.2 468.3 572.2 468.0 574.2 467.8 576.2 467.5 578.2 467.3 580.2 467.1 582.2 466.9 584.2 466.7 586.2 466.6 588.3 466.5 590.3 466.3 592.3 466.2 594.4 466.2 596.4 466.1 598.4 466.0 600.5 465.9 602.5 465.9 604.5 465.8 606.6 465.8 608.6 465.8 610.7 465.7 612.7 465.7 614.7 465.7 616.7 465.6 618.8 465.6 620.8 465.6 622.8 465.5 624.8 465.5 626.8 465.5 628.8 465.4 630.9 465.4 632.9 465.4 634.9 465.3 636.9 465.3 638.9 465.3 640.9 465.3 642.9 465.3 644.9 465.2 646.9 465.2 648.9 465.2 650.9 465.2 652.8 465.2 654.8 465.2 656.8 465.2 658.8 465.2 660.8 465.2 662.8 465.2 664.8 465.2 666.8 465.2 668.8 465.2 670.7 465.3 672.7 465.3 674.7 465.3 676.7 465.4 678.7 465.4 680.7 465.4 682.6 465.5 684.6 465.5 686.6 465.6 688.6 465.7 690.6 465.7 692.6 465.8 694.5 465.9 696.5 466.0 698.5 466.0 700.5 466.1 702.5 466.2 704.5 466.3 706.5 466.4 708.5 466.6 710.5 466.7 712.4 466.8 714.4 467.0 716.4 467.1 718.4 467.2 720.4 467.4 722.4 467.6 724.4 467.7 726.4 467.9 728.4 468.1 730.4 468.2 732.4 468.4 734.4 468.6 736.5 468.7 738.5 468.9 740.5 469.1 742.5 469.3 744.5 469.4 746.5 469.6 748.5 469.8 750.5 469.9 752.5 470.1 754.5 470.3 756.5 470.4 758.5 470.6 760.6 470.7 762.6 470.8 764.6 471.0 766.6 471.1 768.6 471.2 770.6 471.3 772.6 471.4 774.6 471.5 776.6 471.5 778.6 471.6 780.6 471.6 782.6 471.7 784.6 471.7 786.6 471.7 788.6 471.7 790.6 471.7 792.6 471.7 794.6 471.6 796.6 471.6 798.6 471.5 800.6 471.4 802.6 471.3 804.6 471.2 806.6 471.0 808.6 470.9 810.6 470.7 812.6 470.5 814.5 470.3 816.5 470.1 818.5 469.9 820.5 469.6 822.5 469.4 824.5 469.1 826.4 468.9 828.4 468.6 830.4 468.3 832.4 468.0 834.3 467.7 836.3 467.4 838.3 467.1 840.3 466.8 842.2 466.5 844.2 466.1 846.2 465.8 848.2 465.5 850.1 465.1 852.1 464.8 854.1 464.5 856.0 464.1 858.0 463.8 860.0 463.4 862.0 463.1 863.9 462.8 865.9 462.4 867.9 462.1 869.8 461.8 871.8 461.4 873.8 461.1 875.8 460.8 877.7 460.4 879.7 460.1 881.7 459.7 883.6 459.4 885.6 459.1 887.6 458.7 889.6 458.4 891.5 458.1 893.5 457.8 895.5 457.4 897.4 457.1 899.4 456.8 901.4 456.4 903.4 456.1 905.3 455.8 907.3 455.5 909.3 455.1 911.3 454.8 913.2 454.5 915.2 454.2 917.2 453.8 919.2 453.5 921.1 453.2 923.1 452.9 925.1 452.5 927.1 452.2 929.0 451.9 931.0 451.6 933.0 451.3 935.0 451.0 937.0 450.6 938.9 450.3 940.9 450.0 942.9 449.7 944.9 449.4 946.9 449.1 948.8 448.8 950.8 448.5 952.8 448.1 954.8 447.8 956.8 447.5 958.8 447.2 960.7 446.9 962.7 446.6 964.7 446.3 966.7 446.0 968.7 445.7 970.7 445.3 972.6 445.0 974.6 444.7 976.6 444.4 978.6 444.1 980.6 443.7 982.5 443.4 984.5 443.1 986.5 442.7 988.5 442.4 990.5 442.0 992.4 441.7 994.4 441.3 996.4 441.0 998.3 440.6 1000.3 440.3 1002.3 439.9 1004.3 439.5 1006.2 439.1 1008.2 438.7 1010.1 438.4 1012.1 438.0 1014.1 437.6 1016.0 437.1 1018.0 436.7 1019.9 436.3 1021.9 435.9 1023.8 435.4 1025.8 435.0 1027.7 434.5 1029.7 434.1 1031.6 433.6 1033.6 433.1 1035.5 432.6 1037.4 432.1 1039.4 431.6 1041.3 431.1 1043.2 430.6 1045.1 430.1 1047.1 429.5 1049.0 429.0 1050.9 428.4 1052.8 427.9 1054.7 427.3 1056.6 426.7 1058.5 426.1 1060.4 425.5 1062.3 424.9 1064.2 424.2 1066.1 423.6 1068.0 423.0 1069.9 422.3 1071.7 421.6 1073.6 421.0 1075.5 420.3 1077.4 419.6 1079.3 418.9 1081.1 418.2 1083.0 417.5 1084.9 416.8 1086.7 416.1 1088.6 415.4 1090.5 414.6 1092.3 413.9 1094.2 413.2 1096.0 412.4 1097.9 411.7 1099.8 410.9 1101.6 410.2 1103.5 409.4 1105.3 408.6 1107.2 407.9 1109.0 407.1 1110.9 406.3 1112.7 405.6 1114.6 404.8 1116.4 404.0 1118.3 403.2 1120.1 402.4 1122.0 401.7 1123.8 400.9 1125.7 400.1 1127.5 399.3 1129.4 398.5 1131.2 397.7 1133.1 397.0 1134.9 396.2 1136.8 395.4 1138.6 394.6 1140.4 393.8 1142.3 393.0 1144.2 392.3 1146.0 391.5 1147.9 390.7 1149.7 389.9 1151.6 389.2 1153.4 388.4 1155.3 387.7 1157.1 386.9 1159.0 386.1 1160.9 385.4 1162.7 384.7 1164.6 383.9 1166.4 383.2 1168.3 382.4 1170.2 381.7 1172.1 381.0 1173.9 380.3 1175.8 379.5 1177.7 378.8 1179.5 378.1 1181.4 377.4 1183.3 376.7 1185.2 376.0 1187.0 375.3 1188.9 374.6 1190.8 373.9 1192.7 373.2 1194.6 372.5 1196.4 371.8 1198.3 371.1 1200.2 370.5 1202.1 369.8 1204.0 369.1 1205.8 368.4 1207.7 367.7 1209.6 367.1 1211.5 366.4 1213.4 365.7 1215.3 365.0 1217.2 364.4 1219.1 363.7 1220.9 363.0 1222.8 362.4 1224.7 361.7 1226.6 361.0 1228.5 360.4 1230.4 359.7 1232.3 359.1 1234.2 358.4 1236.1 357.7 1237.9 357.1 1239.8 356.4 1241.7 355.8 1243.6 355.1 1245.5 354.4 1247.4 353.8 1249.3 353.1 1251.2 352.5 1253.1 351.8 1254.9 351.2 1256.8 350.5 1258.7 349.8 1260.6 349.2 1262.5 348.5 1264.4 347.8 1266.3 347.2 1268.2 346.5 1270.0 345.9 1271.9 345.2 1273.8 344.5 1275.7 343.8 1277.6 343.2 1279.5 342.5 1281.4 341.8 1283.2 341.2 1285.1 340.5 1287.0 339.8 1288.9 339.2 1290.8 338.5 1292.7 337.8 1294.5 337.1 1296.4 336.4 1298.3 335.8 1300.2 335.1 1302.1 334.4 1303.9 333.7 1305.8 333.0 1307.7 332.4 1309.6 331.7 1311.5 331.0 1313.3 330.3 1315.2 329.6 1317.1 328.9 1319.0 328.3 1320.9 327.6 1322.7 326.9 1324.6 326.2 1326.5 325.5 1328.4 324.8 1330.2 324.1 1332.1 323.4 1334.0 322.7 1335.9 322.0 1337.7 321.3 1339.6 320.6 1341.5 319.9 1343.4 319.2 1345.3 318.5 1347.1 317.8 1349.0 317.1 1350.9 316.4 1352.8 315.7 1354.6 315.0 1356.5 314.3 1358.4 313.6 1360.3 312.9 1362.1 312.2 1364.0 311.5 1365.9 310.8 1367.8 310.1 1369.6 309.3 1371.5 308.6 1373.4 307.9 1375.3 307.2 1377.1 306.5 1379.0 305.8 1380.9 305.1 1382.7 304.3 1384.6 303.6 1386.5 302.9 1388.4 302.2 1390.2 301.5 1392.1 300.7 1394.0 300.0 1395.9 299.3 1397.7 298.6 1399.6 297.8 1401.5 297.1 1403.4 296.4 1405.2 295.7 1407.1 294.9 1409.0 294.2 1410.9 293.5 1412.7 292.8 1414.6 292.0 1416.5 291.3 1418.4 290.6 1420.3 289.9 1422.1 289.2 1424.0 288.5 1425.9 287.7 1427.8 287.0 1429.7 286.3 1431.5 285.6 1433.4 285.0 1435.3 284.3 1437.2 283.6 1439.1 282.9 1441.0 282.2 1442.9 281.6 1444.8 280.9 1446.6 280.2 1448.5 279.6 1450.4 279.0 1452.3 278.3 1454.2 277.7 1456.1 277.1 1458.0 276.5 1459.9 275.9 1461.8 275.3 1463.8 274.7 1465.7 274.1 1467.6 273.5 1469.5 273.0 1471.4 272.4 1473.3 271.9 1475.2 271.4 1477.2 270.8 1479.1 270.3 1481.0 269.8 1482.9 269.4 1484.9 268.9 1486.8 268.4 1488.8 268.0 1490.7 267.6 1492.6 267.1 1494.6 266.7 1496.5 266.3 1498.5 266.0 1500.4 265.6 1502.4 265.2 1504.4 264.9 1506.3 264.6 1508.3 264.3 1510.2 264.0 1512.2 263.7 1514.2 263.4 1516.2 263.2 1518.2 262.9 1520.1 262.7 1522.1 262.5 1524.1 262.3 1526.1 262.1 1528.1 261.9 1530.1 261.7 1532.1 261.6 1534.1 261.4 1536.1 261.2 1538.1 261.1 1540.1 261.0 1542.1 260.8 1544.1 260.7 1546.1 260.6 1548.1 260.5 1550.1 260.4 1552.1 260.3 1554.1 260.2 1556.1 260.1 1558.1 260.0 1560.1 259.9 1562.2 259.8 1564.2 259.7 1566.2 259.6 1568.2 259.6 1570.2 259.5 1572.2 259.4 1574.2 259.3 1576.2 259.2 1578.3 259.1 1580.3 259.1 1582.3 259.0 1584.3 258.9 1586.3 258.8 1588.3 258.7 1590.3 258.6 1592.3 258.5 1594.3 258.4 1596.3 258.3 1598.4 258.1 1600.4 258.0 1602.4 257.9 1604.4 257.8 1606.4 257.6 1608.4 257.5 1610.4 257.4 1612.4 257.2 1614.4 257.1 1616.4 256.9 1618.4 256.7 1620.4 256.6 1622.4 256.4 1624.4 256.2 1626.4 256.1 1628.4 255.9 1630.4 255.7 1632.4 255.5 1634.3 255.3 1636.3 255.1 1638.3 254.9 1640.3 254.7 1642.3 254.5 1644.3 254.3 1646.3 254.1 1648.3 253.8 1650.3 253.6 1652.2 253.3 1654.2 253.1 1656.2 252.8 1658.2 252.6 1660.2 252.3 1662.1 252.1 1664.1 251.8 1666.1 251.5 1668.1 251.2 1670.1 250.9 1672.0 250.6 1674.0 250.3 1676.0 250.0 1677.9 249.7 1679.9 249.4 1681.9 249.0 1683.9 248.7 1685.8 248.4 1687.8 248.0 1689.8 247.6 1691.7 247.3 1693.7 246.9 1695.6 246.5 1697.6 246.2 1699.6 245.8 1701.5 245.4 1703.5 245.0 1705.4 244.6 1707.4 244.1 1709.3 243.7 1711.3 243.3 1713.2 242.8 1715.2 242.4 1717.1 241.9 1719.1 241.5 1721.0 241.0 1723.0 240.5 1724.9 240.0 1726.9 239.5 1728.8 239.0 1730.8 238.5 1732.7 238.0 1734.6 237.5 1736.6 237.0 1738.5 236.4 1740.4 235.9 1742.4 235.3 1744.3 234.7 1746.2 234.2 1748.1 233.6 1750.1 233.0 1752.0 232.3 1753.9 231.7 1755.8 231.0 1757.7 230.4 1759.5 229.7 1761.4 229.0 1763.3 228.2 1765.1 227.4 1766.9 226.6 1768.8 225.8 1770.6 224.9 1772.3 224.1 1774.1 223.1 1775.8 222.2 1777.6 221.2 1779.3 220.1 1781.0 219.1 1782.6 217.9 1784.2 216.8 1785.9 215.6 1787.4 214.3 1789.0 213.0 1789.0 214.9 1789.0 216.9 1789.0 218.8 1789.0 220.8 1789.0 222.8 1789.0 224.7 1789.0 226.7 1789.0 228.7 1789.1 230.7 1789.1 232.7 1789.1 234.7 1789.2 236.7 1789.2 238.7 1789.2 240.7 1789.3 242.7 1789.3 244.7 1789.3 246.7 1789.3 248.7 1789.4 250.7 1789.4 252.8 1789.4 254.8 1789.4 256.8 1789.5 258.8 1789.5 260.9 1789.5 262.9 1789.5 264.9 1789.5 267.0 1789.5 269.0 1789.4 271.0 1789.4 273.1 1789.4 275.1 1789.3 277.1 1789.3 279.2 1789.2 281.2 1789.2 283.2 1789.1 285.3 1789.0 287.3 1788.9 289.3 1788.8 291.3 1788.6 293.3 1788.5 295.4 1788.3 297.4 1788.2 299.4 1788.0 301.4 1787.8 303.4 1787.6 305.4 1787.3 307.4 1787.1 309.4 1786.8 311.4 1786.5 313.4 1786.2 315.3 1785.9 317.3 1785.5 319.3 1785.2 321.2 1784.8 323.2 1784.4 325.1 1784.0 327.1 1783.5 329.0 1783.1 331.0 1782.6 332.9 1782.1 334.8 1781.6 336.7 1781.1 338.6 1780.5 340.5 1780.0 342.4 1779.4 344.3 1778.8 346.2 1778.2 348.1 1777.5 350.0 1776.9 351.9 1776.2 353.7 1775.5 355.6 1774.9 357.5 1774.1 359.3 1773.4 361.2 1772.7 363.0 1771.9 364.8 1771.2 366.7 1770.4 368.5 1769.6 370.3 1768.8 372.2 1768.0 374.0 1767.1 375.8 1766.3 377.6 1765.4 379.4 1764.6 381.2 1763.7 383.0 1762.8 384.8 1761.9 386.6 1761.0 388.3 1760.0 390.1 1759.1 391.9 1758.2 393.6 1757.2 395.4 1756.2 397.2 1755.3 398.9 1754.3 400.7 1753.3 402.4 1752.3 404.1 1751.3 405.9 1750.2 407.6 1749.2 409.3 1748.1 411.0 1747.1 412.8 1746.0 414.5 1744.9 416.2 1743.8 417.8 1742.7 419.5 1741.6 421.2 1740.5 422.9 1739.4 424.6 1738.2 426.2 1737.1 427.9 1735.9 429.5 1734.8 431.2 1733.6 432.8 1732.4 434.4 1731.2 436.0 1730.0 437.6 1728.8 439.2 1727.5 440.8 1726.3 442.4 1725.1 444.0 1723.8 445.6 1722.5 447.1 1721.3 448.7 1720.0 450.2 1718.7 451.8 1717.4 453.3 1716.0 454.8 1714.7 456.3 1713.4 457.8 1712.0 459.3 1710.7 460.8 1709.3 462.3 1707.9 463.7 1706.6 465.2 1705.2 466.6 1703.8 468.0 1702.4 469.5 1700.9 470.9 1699.5 472.3 1698.1 473.7 1696.6 475.0 1695.2 476.4 1693.7 477.8 1692.2 479.1 1690.7 480.5 1689.2 481.8 1687.7 483.1 1686.2 484.4 1684.7 485.7 1683.2 487.0 1681.6 488.2 1680.1 489.5 1678.5 490.7 1676.9 491.9 1675.3 493.2 1673.8 494.4 1672.2 495.5 1670.6 496.7 1668.9 497.9 1667.3 499.0 1665.7 500.2 1664.0 501.3 1662.4 502.4 1660.7 503.5 1659.1 504.6 1657.4 505.7 1655.7 506.8 1654.0 507.8 1652.3 508.9 1650.6 509.9 1648.9 511.0 1647.2 512.0 1645.5 513.0 1643.8 514.0 1642.1 515.0 1640.3 516.0 1638.6 517.0 1636.8 518.0 1635.1 519.0 1633.3 520.0 1631.6 520.9 1629.8 521.9 1628.1 522.8 1626.3 523.8 1624.6 524.7 1622.8 525.7 1621.0 526.6 1619.3 527.6 1617.5 528.5 1615.7 529.4 1613.9 530.4 1612.2 531.3 1610.4 532.2 1608.6 533.1 1606.8 534.0 1605.0 534.9 1603.2 535.8 1601.4 536.7 1599.6 537.6 1597.8 538.5 1596.0 539.4 1594.2 540.2 1592.4 541.1 1590.6 542.0 1588.8 542.8 1587.0 543.7 1585.2 544.5 1583.4 545.4 1581.6 546.2 1579.7 547.0 1577.9 547.9 1576.1 548.7 1574.3 549.5 1572.4 550.3 1570.6 551.1 1568.8 551.9 1566.9 552.7 1565.1 553.5 1563.2 554.3 1561.4 555.0 1559.6 555.8 1557.7 556.5 1555.8 557.3 1554.0 558.0 1552.1 558.8 1550.3 559.5 1548.4 560.2 1546.6 561.0 1544.7 561.7 1542.8 562.4 1540.9 563.1 1539.1 563.8 1537.2 564.5 1535.3 565.2 1533.5 565.9 1531.6 566.6 1529.7 567.3 1527.8 567.9 1525.9 568.6 1524.0 569.3 1522.2 570.0 1520.3 570.6 1518.4 571.3 1516.5 571.9 1514.6 572.6 1512.7 573.2 1510.8 573.9 1508.9 574.5 1507.0 575.1 1505.1 575.8 1503.2 576.4 1501.3 577.0 1499.4 577.6 1497.5 578.3 1495.6 578.9 1493.7 579.5 1491.8 580.1 1489.9 580.7 1488.0 581.3 1486.1 581.9 1484.1 582.5 1482.2 583.1 1480.3 583.7 1478.4 584.3 1476.5 584.9 1474.6 585.5 1472.7 586.1 1470.8 586.6 1468.8 587.2 1466.9 587.8 1465.0 588.4 1463.1 589.0 1461.2 589.6 1459.3 590.1 1457.3 590.7 1455.4 591.3 1453.5 591.9 1451.6 592.5 1449.7 593.1 1447.8 593.6 1445.9 594.2 1443.9 594.8 1442.0 595.4 1440.1 596.0 1438.2 596.6 1436.3 597.2 1434.4 597.8 1432.5 598.4 1430.6 599.0 1428.6 599.6 1426.7 600.2 1424.8 600.8 1422.9 601.4 1421.0 602.0 1419.1 602.7 1417.2 603.3 1415.3 603.9 1413.4 604.6 1411.5 605.2 1409.6 605.9 1407.7 606.5 1405.9 607.2 1404.0 607.8 1402.1 608.5 1400.2 609.2 1398.3 609.9 1396.4 610.5 1394.5 611.2 1392.7 611.9 1390.8 612.6 1388.9 613.4 1387.1 614.1 1385.2 614.8 1383.3 615.6 1381.5 616.3 1379.6 617.1 1377.7 617.8 1375.9 618.6 1374.0 619.4 1372.2 620.2 1370.4 621.0 1368.5 621.8 1366.7 622.6 1364.8 623.4 1363.0 624.2 1361.2 625.1 1359.4 626.0 1357.6 626.8 1355.8 627.7 1354.0 628.6 1352.2 629.5 1350.4 630.4 1348.6 631.3 1346.8 632.2 1345.0 633.2 1343.3 634.1 1341.5 635.1 1339.8 636.1 1338.0 637.1 1336.3 638.1 1334.6 639.1 1332.8 640.1 1331.1 641.1 1329.4 642.2 1327.7 643.2 1326.0 644.3 1324.4 645.4 1322.7 646.5 1321.0 647.6 1319.4 648.7 1317.8 649.9 1316.1 651.0 1314.5 652.2 1312.9 653.4 1311.3 654.5 1309.8 655.7 1308.2 657.0 1306.6 658.2 1305.1 659.4 1303.6 660.7 1302.0 662.0 1300.5 663.3 1299.0 664.6 1297.6 665.9 1296.1 667.2 1294.6 668.6 1293.2 669.9 1291.8 671.3 1290.4 672.7 1289.0 674.1 1287.6 675.6 1286.2 677.0 1284.9 678.5 1283.5 680.0 1282.2 681.4 1280.9 683.0 1279.6 684.5 1278.4 686.0 1277.1 687.6 1275.9 689.2 1274.6 690.7 1273.4 692.3 1272.2 694.0 1271.0 695.6 1269.9 697.2 1268.7 698.9 1267.6 700.5 1266.4 702.2 1265.3 703.9 1264.2 705.6 1263.1 707.3 1262.0 709.0 1261.0 710.7 1259.9 712.4 1258.9 714.2 1257.8 715.9 1256.8 717.7 1255.8 719.4 1254.8 721.2 1253.8 722.9 1252.8 724.7 1251.8 726.5 1250.8 728.2 1249.9 730.0 1248.9 731.8 1248.0 733.6 1247.0 735.4 1246.1 737.2 1245.2 739.0 1244.3 740.8 1243.3 742.6 1242.4 744.4 1241.6 746.2 1240.7 748.0 1239.8 749.8 1238.9 751.6 1238.1 753.4 1237.2 755.2 1236.3 757.0 1235.5 758.8 1234.7 760.7 1233.8 762.5 1233.0 764.3 1232.2 766.1 1231.4 768.0 1230.6 769.8 1229.8 771.6 1229.0 773.5 1228.2 775.3 1227.4 777.1 1226.6 779.0 1225.8 780.8 1225.1 782.7 1224.3 784.5 1223.5 786.4 1222.8 788.2 1222.0 790.1 1221.3 791.9 1220.6 793.8 1219.8 795.6 1219.1 797.5 1218.4 799.3 1217.6 801.2 1216.9 803.1 1216.2 804.9 1215.5 806.8 1214.8 808.7 1214.1 810.5 1213.4 812.4 1212.7 814.3 1212.0 816.1 1211.3 818.0 1210.6 819.9 1209.9 821.8 1209.2 823.6 1208.6 825.5 1207.9 827.4 1207.2 829.3 1206.5 831.1 1205.9 833.0 1205.2 834.9 1204.5 836.8 1203.9 838.7 1203.2 840.5 1202.5 842.4 1201.9 844.3 1201.2 846.2 1200.6 848.1 1199.9 850.0 1199.3 851.9 1198.6 853.7 1198.0 855.6 1197.3 857.5 1196.7 859.4 1196.0 861.3 1195.4 863.2 1194.7 865.1 1194.1 867.0 1193.4 868.8 1192.8 870.7 1192.1 872.6 1191.5 874.5 1190.9 876.4 1190.2 878.3 1189.6 880.2 1188.9 882.1 1188.3 884.0 1187.6 885.9 1187.0 887.7 1186.3 889.6 1185.7 891.5 1185.0 893.4 1184.4 895.3 1183.7 897.2 1183.1 899.1 1182.4 901.0 1181.7 902.9 1181.1 904.7 1180.4 906.6 1179.8 908.5 1179.1 910.4 1178.5 912.3 1177.8 914.2 1177.1 916.1 1176.5 918.0 1175.8 919.9 1175.2 921.7 1174.5 923.6 1173.8 925.5 1173.2 927.4 1172.5 929.3 1171.8 931.2 1171.2 933.1 1170.5 935.0 1169.8 936.8 1169.2 938.7 1168.5 940.6 1167.8 942.5 1167.1 944.4 1166.5 946.3 1165.8 948.2 1165.1 950.1 1164.4 951.9 1163.7 953.8 1163.0 955.7 1162.4 957.6 1161.7 959.5 1161.0 961.4 1160.3 963.3 1159.6 965.2 1158.9 967.0 1158.2 968.9 1157.5 970.8 1156.8 972.7 1156.1 974.6 1155.4 976.5 1154.7 978.4 1154.0 980.2 1153.3 982.1 1152.6 984.0 1151.9 985.9 1151.2 987.8 1150.5 989.7 1149.8 991.6 1149.1 993.4 1148.4 995.3 1147.6 997.2 1146.9 999.1 1146.2 1001.0 1145.5 1002.9 1144.7 1004.7 1144.0 1006.6 1143.3 1008.5 1142.6 1010.4 1141.8 1012.3 1141.1 1014.2 1140.3 1016.1 1139.6 1017.9 1138.9 1019.8 1138.1 1021.7 1137.3 1023.5 1136.5 1025.4 1135.7 1027.2 1134.9 1029.1 1134.1 1030.9 1133.2 1032.7 1132.3 1034.5 1131.4 1036.2 1130.4 1037.9 1129.4 1039.6 1128.4 1041.3 1127.3 1043.0 1126.2 1044.6 1125.0 1046.2 1123.8 1047.7 1122.5 1049.2 1121.2 1050.7 1119.8 1052.1 1118.3 1053.5 1116.8 1054.8 1115.2 1056.1 1113.6 1057.4 1111.9 1058.5 1110.1 1059.6 1108.3 1060.5 1106.4 1061.3 1104.5 1061.8 1102.6 1062.1 1100.7 1062.2 1098.7 1062.0 1096.8 1061.5 1095.0 1060.9 1093.3 1060.1 1091.6 1059.1 1090.0 1057.9 1088.5 1056.6 1087.1 1055.2 1085.7 1053.8 1084.4 1052.2 1083.1 1050.6 1081.9 1048.9 1080.7 1047.2 1079.6 1045.5 1078.5 1043.8 1077.4 1042.0 1076.3 1040.3 1075.3 1038.5 1074.3 1036.7 1073.3 1034.9 1072.4 1033.1 1071.5 1031.3 1070.6 1029.4 1069.7 1027.6 1068.9 1025.8 1068.0 1023.9 1067.2 1022.0 1066.4 1020.2 1065.7 1018.3 1064.9 1016.4 1064.1 1014.5 1063.4 1012.7 1062.7 1010.8 1062.0 1008.9 1061.2 1007.0 1060.5 1005.1 1059.8 1003.2 1059.2 1001.3 1058.5 999.4 1057.8 997.5 1057.1 995.6 1056.4 993.7 1055.7 991.9 1055.0 990.0 1054.3 988.1 1053.7 986.2 1053.0 984.4 1052.3 982.5 1051.6 980.6 1050.9 978.8 1050.2 976.9 1049.5 975.1 1048.8 973.2 1048.1 971.4 1047.4 969.5 1046.7 967.7 1046.0 965.8 1045.3 964.0 1044.6 962.1 1043.9 960.3 1043.2 958.5 1042.5 956.6 1041.8 954.8 1041.1 952.9 1040.4 951.1 1039.7 949.2 1039.0 947.4 1038.3 945.6 1037.6 943.7 1036.9 941.9 1036.2 940.0 1035.5 938.2 1034.8 936.3 1034.1 934.5 1033.4 932.6 1032.7 930.7 1032.0 928.9 1031.3 927.0 1030.6 925.2 1029.9 923.3 1029.2 921.4 1028.5 919.5 1027.8 917.7 1027.1 915.8 1026.4 913.9 1025.7 912.0 1025.0 910.1 1024.3 908.2 1023.7 906.3 1023.0 904.4 1022.3 902.6 1021.6 900.7 1020.9 898.8 1020.2 896.9 1019.5 895.0 1018.7 893.1 1018.0 891.1 1017.3 889.2 1016.6 887.3 1015.9 885.4 1015.2 883.5 1014.4 881.6 1013.7 879.8 1013.0 877.9 1012.2 876.0 1011.5 874.1 1010.8 872.2 1010.0 870.3 1009.2 868.4 1008.5 866.5 1007.7 864.6 1006.9 862.8 1006.2 860.9 1005.4 859.0 1004.6 857.1 1003.8 855.3 1003.0 853.4 1002.1 851.6 1001.3 849.7 1000.5 847.9 999.7 846.0 998.8 844.2 998.0 842.4 997.1 840.6 996.2 838.7 995.3 836.9 994.4 835.1 993.5 833.3 992.6 831.5 991.7 829.8 990.8 828.0 989.8 826.2 988.9 824.5 987.9 822.7 986.9 821.0 986.0 819.2 985.0 817.5 983.9 815.8 982.9 814.1 981.9 812.4 980.8 810.7 979.8 809.0 978.7 807.4 977.6 805.7 976.5 804.1 975.4 802.4 974.3 800.8 973.1 799.2 972.0 797.6 970.8 796.0 969.6 794.4 968.4 792.9 967.2 791.3 966.0 789.8 964.7 788.2 963.5 786.7 962.2 785.2 960.9 783.7 959.6 782.3 958.2 780.8 956.9 779.4 955.5 777.9 954.1 776.5 952.7 775.1 951.3 773.7 949.9 772.4 948.4 771.0 947.0 769.7 945.5 768.3 944.0 767.0 942.5 765.7 940.9 764.4 939.4 763.2 937.8 761.9 936.3 760.7 934.7 759.5 933.1 758.3 931.5 757.1 929.8 755.9 928.2 754.7 926.5 753.6 924.9 752.5 923.2 751.4 921.5 750.3 919.8 749.2 918.1 748.1 916.4 747.1 914.6 746.0 912.9 745.0 911.1 744.0 909.4 743.0 907.6 742.1 905.8 741.1 904.0 740.2 902.2 739.3 900.4 738.4 898.6 737.5 896.8 736.6 894.9 735.7 893.1 734.9 891.2 734.1 889.4 733.3 887.5 732.5 885.7 731.7 883.8 731.0 881.9 730.2 880.0 729.5 878.1 728.8 876.2 728.1 874.3 727.5 872.4 726.8 870.5 726.2 868.6 725.6 866.7 725.0 864.7 724.4 862.8 723.8 860.9 723.3 859.0 722.7 857.0 722.2 855.1 721.7 853.1 721.3 851.2 720.8 849.3 720.3 847.3 719.9 845.4 719.5 843.4 719.1 841.5 718.7 839.5 718.3 837.5 718.0 835.6 717.7 833.6 717.3 831.7 717.0 829.7 716.7 827.7 716.4 825.8 716.2 823.8 715.9 821.8 715.7 819.8 715.5 817.9 715.2 815.9 715.0 813.9 714.9 811.9 714.7 809.9 714.5 807.9 714.4 805.9 714.2 804.0 714.1 802.0 714.0 800.0 713.9 798.0 713.8 796.0 713.7 794.0 713.6 792.0 713.5 790.0 713.5 788.0 713.4 786.0 713.4 784.0 713.4 782.0 713.4 780.0 713.4 778.0 713.4 776.0 713.4 774.0 713.4 771.9 713.4 769.9 713.4 767.9 713.5 765.9 713.5 763.9 713.6 761.9 713.7 759.9 713.7 757.9 713.8 755.9 713.9 753.8 714.0 751.8 714.1 749.8 714.2 747.8 714.3 745.8 714.4 743.8 714.5 741.8 714.6 739.8 714.8 737.7 714.9 735.7 715.1 733.7 715.2 731.7 715.3 729.7 715.5 727.7 715.7 725.7 715.8 723.7 716.0 721.6 716.2 719.6 716.4 717.6 716.5 715.6 716.7 713.6 717.0 711.6 717.2 709.6 717.4 707.6 717.6 705.6 717.9 703.6 718.1 701.6 718.4 699.6 718.6 697.6 718.9 695.7 719.2 693.7 719.5 691.7 719.8 689.7 720.1 687.7 720.4 685.8 720.8 683.8 721.1 681.8 721.5 679.9 721.8 677.9 722.2 676.0 722.6 674.0 723.0 672.1 723.5 670.1 723.9 668.2 724.4 666.3 724.8 664.3 725.3 662.4 725.8 660.5 726.3 658.6 726.8 656.7 727.4 654.8 727.9 652.9 728.5 651.0 729.1 649.1 729.7 647.2 730.3 645.3 730.9 643.4 731.6 641.6 732.3 639.7 733.0 637.9 733.7 636.0 734.4 634.2 735.1 632.3 735.9 630.5 736.7 628.7 737.5 626.9 738.3 625.1 739.2 623.3 740.0 621.5 740.9 619.7 741.8 617.9 742.7 616.1 743.6 614.4 744.5 612.6 745.5 610.8 746.4 609.1 747.4 607.3 748.4 605.5 749.4 603.8 750.4 602.1 751.4 600.3 752.4 598.6 753.4 596.8 754.4 595.1 755.5 593.4 756.5 591.6 757.5 589.9 758.6 588.2 759.6 586.5 760.7 584.7 761.7 583.0 762.8 581.3 763.8 579.6 764.9 577.9 765.9 576.2 767.0 574.5 768.1 572.8 769.1 571.1 770.2 569.4 771.3 567.7 772.4 566.1 773.5 564.4 774.7 562.8 775.8 561.2 777.0 559.5 778.1 557.9 779.3 556.4 780.5 554.8 781.7 553.2 783.0 551.7 784.2 550.2 785.5 548.7 786.8 547.2 788.1 545.8 789.5 544.3 790.8 542.9 792.2 541.5 793.6 540.1 795.1 538.8 796.5 537.4 798.0 536.1 799.5 534.8 801.0 533.6 802.6 532.3 804.1 531.1 805.7 529.9 807.3 528.7 808.9 527.5 810.5 526.4 812.1 525.2 813.8 524.1 815.4 523.0 817.1 522.0 818.8 520.9 820.5 519.9 822.2 518.9 823.9 517.9 825.6 516.9 827.4 516.0 829.1 515.0 830.9 514.1 832.6 513.2 834.4 512.3 836.2 511.5 838.0 510.6 839.8 509.8 841.6 508.9 843.4 508.1 845.2 507.3 847.0 506.5 848.9 505.8 850.7 505.0 852.6 504.3 854.4 503.5 856.3 502.8 858.1 502.1 860.0 501.4 861.9 500.7 863.8 500.0 865.6 499.3 867.5 498.6 869.4 497.9 871.3 497.3 873.2 496.6 875.1 496.0 877.0 495.3 878.9 494.7 880.8 494.0 882.7 493.4 884.6 492.8 886.5 492.1 888.4 491.5 890.3 490.9 892.2 490.2 894.2 489.6 896.1 489.0 898.0 488.4 899.9 487.7 901.8 487.1 903.7 486.5 905.6 485.9 907.5 485.3 909.4 484.6 911.3 484.0 913.3 483.4 915.2 482.8 917.1 482.2 919.0 481.6 920.9 481.0 922.8 480.4 924.7 479.7 926.6 479.1 928.5 478.5 930.5 477.9 932.4 477.3 934.3 476.7 936.2 476.1 938.1 475.5 940.0 474.9 941.9 474.3 943.8 473.7 945.7 473.1 947.7 472.5 949.6 471.9 951.5 471.3 953.4 470.7 955.3 470.0 957.2 469.4 959.1 468.8 961.0 468.2 962.9 467.6 964.8 467.0 966.8 466.4 968.7 465.8 970.6 465.2 972.5 464.6 974.4 464.0 976.3 463.4 978.2 462.8 980.1 462.2 982.0 461.6 983.9 461.0 985.8 460.4 987.8 459.8 989.7 459.2 991.6 458.6 993.5 458.0 995.4 457.4 997.3 456.8 999.2 456.1 1001.1 455.5 1003.0 454.9 1004.9 454.3 1006.8 453.7 1008.7 453.1 1010.6 452.5 1012.5 451.9 1014.4 451.3 1016.3 450.6 1018.2 450.0 1020.1 449.4 1022.0 448.8 1023.9 448.2 1025.8 447.6 1027.7 446.9 1029.6 446.3 1031.5 445.7 1033.4 445.1 1035.3 444.4 1037.2 443.8 1039.1 443.2 1041.0 442.6 1042.9 441.9 1044.8 441.3 1046.7 440.7 1048.6 440.0 1050.5 439.4 1052.4 438.8 1054.3 438.1 1056.2 437.5 1058.1 436.9 1060.0 436.2 1061.9 435.6 1063.8 434.9 1065.7 434.3 1067.6 433.6 1069.4 433.0 1071.3 432.3 1073.2 431.7 1075.1 431.0 1077.0 430.4 1078.9 429.7 1080.8 429.0 1082.7 428.4 1084.6 427.7 1086.4 427.0 1088.3 426.4 1090.2 425.7 1092.1 425.0 1094.0 424.3 1095.9 423.7 1097.7 423.0 1099.6 422.3 1101.5 421.6 1103.4 420.9 1105.2 420.2 1107.1 419.6 1109.0 418.9 1110.9 418.2 1112.8 417.5 1114.6 416.8 1116.5 416.1 1118.4 415.3 1120.2 414.6 1122.1 413.9 1124.0 413.2 1125.9 412.5 1127.7 411.7 1129.6 411.0 1131.5 410.3 1133.3 409.5 1135.2 408.8 1137.0 408.1 1138.9 407.3 1140.8 406.6 1142.6 405.8 1144.5 405.0 1146.3 404.3 1148.2 403.5 1150.0 402.7 1151.9 401.9 1153.7 401.1 1155.6 400.3 1157.4 399.5 1159.3 398.7 1161.1 397.9 1162.9 397.1 1164.8 396.3 1166.6 395.4 1168.5 394.6 1170.3 393.8 1172.1 392.9 1173.9 392.1 1175.8 391.2 1177.6 390.3 1179.4 389.4 1181.2 388.5 1183.0 387.5 1184.7 386.5 1186.4 385.5 1188.1 384.4 1189.8 383.3 1191.4 382.1 1192.9 380.9 1194.5 379.6 1195.9 378.2 1197.3 376.8 1198.6 375.3 1199.9 373.7 1201.1"/>
<path stroke="#ff0000" stroke-width="6.3" d="M402.6 1172.2L402.6 1170.2 402.7 1168.2 402.8 1166.2 402.8 1164.2 402.9 1162.2 402.9 1160.2 403.0 1158.2 403.1 1156.2 403.1 1154.1 403.2 1152.1 403.3 1150.1 403.3 1148.1 403.4 1146.1 403.5 1144.1 403.6 1142.1 403.7 1140.1 403.8 1138.1 403.9 1136.1 403.9 1134.1 404.0 1132.1 404.1 1130.1 404.2 1128.1 404.3 1126.1 404.4 1124.1 404.6 1122.1 404.7 1120.1 404.8 1118.1 404.9 1116.1 405.0 1114.1 405.1 1112.1 405.2 1110.1 405.4 1108.1 405.5 1106.1 405.6 1104.1 405.7 1102.1 405.9 1100.1 406.0 1098.1 406.1 1096.1 406.3 1094.1 406.4 1092.1 406.6 1090.1 406.7 1088.1 406.8 1086.1 407.0 1084.1 407.1 1082.1 407.3 1080.2 407.5 1078.2 407.6 1076.2 407.8 1074.2 407.9 1072.2 408.1 1070.2 408.2 1068.2 408.4 1066.2 408.6 1064.2 408.7 1062.2 408.9 1060.2 409.1 1058.2 409.3 1056.2 409.4 1054.2 409.6 1052.2 409.8 1050.2 410.0 1048.2 410.2 1046.3 410.3 1044.3 410.5 1042.3 410.7 1040.3 410.9 1038.3 411.1 1036.3 411.3 1034.3 411.5 1032.3 411.7 1030.3 411.9 1028.3 412.1 1026.3 412.3 1024.4 412.5 1022.4 412.7 1020.4 412.9 1018.4 413.1 1016.4 413.3 1014.4 413.5 1012.4 413.7 1010.4 413.9 1008.4 414.1 1006.4 414.3 1004.5 414.5 1002.5 414.8 1000.5 415.0 998.5 415.2 996.5 415.4 994.5 415.6 992.5 415.9 990.5 416.1 988.5 416.3 986.6 416.5 984.6 416.8 982.6 417.0 980.6 417.2 978.6 417.5 976.6 417.7 974.6 417.9 972.6 418.2 970.6 418.4 968.7 418.6 966.7 418.9 964.7 419.1 962.7 419.3 960.7 419.6 958.7 419.8 956.7 420.1 954.7 420.3 952.8 420.6 950.8 420.8 948.8 421.0 946.8 421.3 944.8 421.5 942.8 421.8 940.8 422.0 938.9 422.3 936.9 422.5 934.9 422.8 932.9 423.0 930.9 423.3 928.9 423.6 926.9 423.8 924.9 424.1 923.0 424.3 921.0 424.6 919.0 424.8 917.0 425.1 915.0 425.4 913.0 425.6 911.0 425.9 909.0 426.1 907.1 426.4 905.1 426.7 903.1 426.9 901.1 427.2 899.1 427.4 897.1 427.7 895.1 428.0 893.2 428.2 891.2 428.5 889.2 428.8 887.2 429.0 885.2 429.3 883.2 429.6 881.2 429.8 879.2 430.1 877.3 430.4 875.3 430.6 873.3 430.9 871.3 431.2 869.3 431.4 867.3 431.7 865.3 432.0 863.4 432.3 861.4 432.5 859.4 432.8 857.4 433.1 855.4 433.3 853.4 433.6 851.4 433.9 849.4 434.1 847.5 434.4 845.5 434.7 843.5 435.0 841.5 435.2 839.5 435.5 837.5 435.8 835.5 436.1 833.5 436.3 831.5 436.6 829.6 436.9 827.6 437.1 825.6 437.4 823.6 437.7 821.6 438.0 819.6 438.2 817.6 438.5 815.6 438.8 813.7 439.1 811.7 439.4 809.7 439.6 807.7 439.9 805.7 440.2 803.7 440.5 801.7 440.8 799.7 441.1 797.8 441.3 795.8 441.6 793.8 441.9 791.8 442.2 789.8 442.5 787.8 442.8 785.9 443.1 783.9 443.4 781.9 443.7 779.9 444.0 777.9 444.3 775.9 444.6 773.9 444.9 772.0 445.2 770.0 445.5 768.0 445.8 766.0 446.1 764.0 446.4 762.1 446.7 760.1 447.0 758.1 447.3 756.1 447.7 754.1 448.0 752.2 448.3 750.2 448.6 748.2 448.9 746.2 449.3 744.3 449.6 742.3 449.9 740.3 450.3 738.3 450.6 736.3 450.9 734.4 451.3 732.4 451.6 730.4 452.0 728.5 452.3 726.5 452.7 724.5 453.0 722.5 453.4 720.6 453.7 718.6 454.1 716.6 454.5 714.7 454.8 712.7 455.2 710.7 455.6 708.8 455.9 706.8 456.3 704.8 456.7 702.9 457.1 700.9 457.5 699.0 457.9 697.0 458.3 695.0 458.6 693.1 459.0 691.1 459.5 689.2 459.9 687.2 460.3 685.3 460.7 683.3 461.1 681.3 461.5 679.4 461.9 677.4 462.4 675.5 462.8 673.5 463.2 671.6 463.7 669.6 464.1 667.7 464.5 665.7 465.0 663.8 465.4 661.9 465.9 659.9 466.4 658.0 466.8 656.0 467.3 654.1 467.8 652.1 468.2 650.2 468.7 648.3 469.2 646.3 469.7 644.4 470.2 642.5 470.7 640.5 471.2 638.6 471.7 636.7 472.2 634.7 472.7 632.8 473.2 630.9 473.8 629.0 474.3 627.0 474.8 625.1 475.3 623.2 475.9 621.3 476.4 619.4 477.0 617.4 477.5 615.5 478.1 613.6 478.7 611.7 479.2 609.8 479.8 607.9 480.4 605.9 481.0 604.0 481.6 602.1 482.1 600.2 482.7 598.3 483.3 596.4 483.9 594.5 484.6 592.6 485.2 590.7 485.8 588.8 486.4 586.9 487.0 585.0 487.7 583.1 488.3 581.2 489.0 579.3 489.6 577.4 490.2 575.5 490.9 573.6 491.6 571.7 492.2 569.8 492.9 567.9 493.6 566.0 494.2 564.1 494.9 562.2 495.6 560.3 496.3 558.4 497.0 556.5 497.7 554.6 498.4 552.7 499.1 550.8 499.8 548.9 500.5 547.0 501.2 545.2 501.9 543.3 502.7 541.4 503.4 539.5 504.2 537.6 504.9 535.7 505.7 533.8 506.4 532.0 507.2 530.1 508.0 528.2 508.8 526.4 509.7 524.5 510.5 522.7 511.4 520.9 512.2 519.1 513.1 517.3 514.0 515.5 515.0 513.7 515.9 511.9 516.9 510.2 517.9 508.4 518.9 506.7 519.9 505.0 521.0 503.3 522.1 501.6 523.2 500.0 524.4 498.3 525.5 496.7 526.7 495.1 528.0 493.6 529.2 492.0 530.5 490.5 531.8 489.0 533.2 487.5 534.6 486.1 536.0 484.6 537.4 483.2 538.8 481.9 540.3 480.5 541.8 479.2 543.3 478.0 544.9 476.7 546.5 475.5 548.0 474.4 549.7 473.2 551.3 472.2 553.0 471.1 554.7 470.1 556.4 469.1 558.1 468.2 559.9 467.3 561.6 466.5 563.4 465.7 565.2 464.9 567.1 464.2 568.9 463.5 570.8 462.8 572.6 462.2 574.5 461.6 576.4 461.1 578.4 460.6 580.3 460.1 582.2 459.6 584.2 459.2 586.1 458.8 588.1 458.4 590.1 458.0 592.1 457.7 594.1 457.4 596.1 457.1 598.1 456.8 600.1 456.6 602.1 456.4 604.1 456.2 606.1 456.0 608.1 455.8 610.2 455.6 612.2 455.5 614.2 455.3 616.2 455.2 618.2 455.1 620.2 455.0 622.3 454.9 624.3 454.8 626.3 454.7 628.3 454.7 630.3 454.6 632.3 454.6 634.3 454.6 636.3 454.6 638.3 454.6 640.4 454.6 642.4 454.6 644.4 454.6 646.4 454.6 648.4 454.7 650.4 454.7 652.4 454.8 654.4 454.8 656.4 454.9 658.4 455.0 660.4 455.1 662.4 455.2 664.4 455.3 666.4 455.4 668.4 455.5 670.4 455.6 672.4 455.7 674.4 455.9 676.4 456.0 678.4 456.2 680.4 456.3 682.4 456.5 684.4 456.6 686.4 456.8 688.4 456.9 690.4 457.1 692.4 457.3 694.4 457.5 696.4 457.6 698.4 457.8 700.4 458.0 702.4 458.2 704.4 458.4 706.4 458.6 708.4 458.8 710.3 459.0 712.3 459.2 714.3 459.4 716.3 459.6 718.3 459.8 720.3 460.0 722.3 460.2 724.3 460.4 726.3 460.6 728.3 460.8 730.3 461.0 732.3 461.2 734.3 461.4 736.3 461.6 738.3 461.8 740.3 462.0 742.2 462.2 744.2 462.3 746.2 462.5 748.2 462.7 750.2 462.9 752.2 463.1 754.2 463.2 756.2 463.4 758.2 463.6 760.2 463.7 762.2 463.9 764.2 464.1 766.2 464.2 768.2 464.4 770.2 464.5 772.2 464.6 774.2 464.8 776.2 464.9 778.2 465.0 780.2 465.1 782.1 465.2 784.1 465.3 786.1 465.4 788.1 465.5 790.1 465.6 792.1 465.6 794.1 465.7 796.1 465.8 798.1 465.8 800.1 465.9 802.1 465.9 804.1 465.9 806.1 466.0 808.1 466.0 810.1 466.0 812.1 466.0 814.1 466.0 816.1 466.0 818.1 466.0 820.1 466.0 822.1 466.0 824.1 466.0 826.1 466.0 828.1 465.9 830.1 465.9 832.1 465.9 834.1 465.8 836.1 465.8 838.1 465.7 840.1 465.6 842.1 465.6 844.1 465.5 846.1 465.4 848.1 465.3 850.1 465.3 852.1 465.2 854.1 465.1 856.1 465.0 858.2 464.9 860.2 464.8 862.2 464.6 864.2 464.5 866.2 464.4 868.2 464.3 870.2 464.1 872.2 464.0 874.2 463.9 876.2 463.7 878.2 463.6 880.2 463.4 882.1 463.3 884.1 463.1 886.1 462.9 888.1 462.8 890.1 462.6 892.1 462.4 894.1 462.2 896.1 462.0 898.1 461.9 900.1 461.7 902.1 461.5 904.1 461.3 906.1 461.1 908.1 460.9 910.1 460.6 912.1 460.4 914.1 460.2 916.1 460.0 918.1 459.8 920.1 459.5 922.1 459.3 924.1 459.1 926.1 458.8 928.1 458.6 930.0 458.3 932.0 458.1 934.0 457.8 936.0 457.6 938.0 457.3 940.0 457.0 942.0 456.8 944.0 456.5 946.0 456.2 947.9 455.9 949.9 455.6 951.9 455.3 953.9 455.1 955.9 454.8 957.9 454.5 959.8 454.1 961.8 453.8 963.8 453.5 965.8 453.2 967.8 452.9 969.7 452.5 971.7 452.2 973.7 451.9 975.7 451.5 977.6 451.2 979.6 450.8 981.6 450.5 983.6 450.1 985.5 449.7 987.5 449.4 989.5 449.0 991.4 448.6 993.4 448.2 995.4 447.9 997.3 447.5 999.3 447.1 1001.3 446.7 1003.2 446.3 1005.2 445.8 1007.1 445.4 1009.1 445.0 1011.0 444.6 1013.0 444.2 1015.0 443.7 1016.9 443.3 1018.9 442.8 1020.8 442.4 1022.8 441.9 1024.7 441.5 1026.7 441.0 1028.6 440.5 1030.5 440.0 1032.5 439.6 1034.4 439.1 1036.4 438.6 1038.3 438.1 1040.2 437.6 1042.2 437.1 1044.1 436.6 1046.0 436.1 1048.0 435.5 1049.9 435.0 1051.8 434.5 1053.7 433.9 1055.7 433.4 1057.6 432.8 1059.5 432.3 1061.4 431.7 1063.3 431.1 1065.3 430.6 1067.2 430.0 1069.1 429.4 1071.0 428.8 1072.9 428.2 1074.8 427.6 1076.7 427.0 1078.6 426.4 1080.5 425.8 1082.4 425.2 1084.3 424.5 1086.2 423.9 1088.1 423.3 1090.0 422.6 1091.9 421.9 1093.8 421.3 1095.6 420.6 1097.5 419.9 1099.4 419.3 1101.3 418.6 1103.2 417.9 1105.0 417.2 1106.9 416.5 1108.8 415.8 1110.6 415.1 1112.5 414.4 1114.4 413.6 1116.2 412.9 1118.1 412.2 1120.0 411.4 1121.8 410.7 1123.7 409.9 1125.5 409.2 1127.4 408.4 1129.2 407.6 1131.1 406.9 1132.9 406.1 1134.8 405.3 1136.6 404.5 1138.5 403.8 1140.3 403.0 1142.2 402.2 1144.0 401.4 1145.9 400.6 1147.7 399.8 1149.5 399.0 1151.4 398.2 1153.2 397.4 1155.1 396.6 1156.9 395.8 1158.7 395.0 1160.6 394.2 1162.4 393.4 1164.3 392.6 1166.1 391.8 1167.9 391.0 1169.8 390.2 1171.6 389.4 1173.5 388.6 1175.3 387.8 1177.1 387.0 1179.0 386.2 1180.8 385.4 1182.7 384.6 1184.5 383.8 1186.3 383.0 1188.2 382.2 1190.0 381.4 1191.9 380.6 1193.7 379.8 1195.6 379.0 1197.4 378.2 1199.3 377.5 1201.1 376.7 1203.0 375.9 1204.8 375.1 1206.7 374.4 1208.5 373.6 1210.4 372.9 1212.2 372.1 1214.1 371.3 1215.9 370.6 1217.8 369.9 1219.7 369.1 1221.5 368.4 1223.4 367.7 1225.3 366.9 1227.1 366.2 1229.0 365.5 1230.9 364.8 1232.7 364.1 1234.6 363.4 1236.5 362.6 1238.4 361.9 1240.2 361.2 1242.1 360.5 1244.0 359.8 1245.9 359.2 1247.8 358.5 1249.6 357.8 1251.5 357.1 1253.4 356.4 1255.3 355.7 1257.2 355.0 1259.0 354.4 1260.9 353.7 1262.8 353.0 1264.7 352.3 1266.6 351.7 1268.5 351.0 1270.4 350.3 1272.2 349.7 1274.1 349.0 1276.0 348.3 1277.9 347.7 1279.8 347.0 1281.7 346.3 1283.6 345.7 1285.5 345.0 1287.4 344.3 1289.3 343.7 1291.1 343.0 1293.0 342.4 1294.9 341.7 1296.8 341.0 1298.7 340.4 1300.6 339.7 1302.5 339.1 1304.4 338.4 1306.3 337.7 1308.1 337.1 1310.0 336.4 1311.9 335.7 1313.8 335.1 1315.7 334.4 1317.6 333.7 1319.5 333.0 1321.4 332.4 1323.2 331.7 1325.1 331.0 1327.0 330.3 1328.9 329.7 1330.8 329.0 1332.7 328.3 1334.5 327.6 1336.4 326.9 1338.3 326.2 1340.2 325.5 1342.1 324.9 1343.9 324.2 1345.8 323.5 1347.7 322.8 1349.6 322.1 1351.4 321.3 1353.3 320.6 1355.2 319.9 1357.1 319.2 1358.9 318.5 1360.8 317.8 1362.7 317.0 1364.5 316.3 1366.4 315.6 1368.3 314.8 1370.1 314.1 1372.0 313.4 1373.9 312.6 1375.7 311.9 1377.6 311.1 1379.5 310.4 1381.3 309.6 1383.2 308.9 1385.0 308.1 1386.9 307.3 1388.8 306.6 1390.6 305.8 1392.5 305.0 1394.3 304.2 1396.2 303.5 1398.0 302.7 1399.9 301.9 1401.7 301.1 1403.6 300.3 1405.4 299.5 1407.3 298.7 1409.1 297.9 1411.0 297.1 1412.8 296.3 1414.7 295.5 1416.5 294.7 1418.4 293.9 1420.2 293.1 1422.1 292.3 1423.9 291.5 1425.8 290.8 1427.6 290.0 1429.5 289.2 1431.4 288.5 1433.2 287.7 1435.1 287.0 1437.0 286.2 1438.8 285.5 1440.7 284.8 1442.6 284.1 1444.4 283.4 1446.3 282.7 1448.2 282.1 1450.1 281.4 1452.0 280.8 1453.9 280.2 1455.8 279.5 1457.7 278.9 1459.6 278.4 1461.5 277.8 1463.4 277.3 1465.3 276.7 1467.2 276.2 1469.2 275.7 1471.1 275.3 1473.0 274.8 1475.0 274.4 1476.9 273.9 1478.9 273.5 1480.8 273.1 1482.8 272.8 1484.7 272.4 1486.7 272.0 1488.7 271.7 1490.6 271.4 1492.6 271.0 1494.6 270.7 1496.6 270.4 1498.5 270.1 1500.5 269.9 1502.5 269.6 1504.5 269.3 1506.5 269.1 1508.4 268.8 1510.4 268.6 1512.4 268.4 1514.4 268.1 1516.4 267.9 1518.4 267.7 1520.4 267.5 1522.4 267.2 1524.4 267.0 1526.3 266.8 1528.3 266.6 1530.3 266.3 1532.3 266.1 1534.3 265.9 1536.3 265.6 1538.3 265.4 1540.3 265.1 1542.3 264.9 1544.2 264.6 1546.2 264.3 1548.2 264.0 1550.2 263.7 1552.1 263.4 1554.1 263.1 1556.1 262.8 1558.1 262.5 1560.0 262.1 1562.0 261.8 1564.0 261.4 1565.9 261.1 1567.9 260.7 1569.9 260.3 1571.8 259.9 1573.8 259.6 1575.8 259.2 1577.7 258.8 1579.7 258.4 1581.7 258.0 1583.6 257.6 1585.6 257.2 1587.5 256.8 1589.5 256.3 1591.4 255.9 1593.4 255.5 1595.4 255.1 1597.3 254.7 1599.3 254.2 1601.2 253.8 1603.2 253.4 1605.2 253.0 1607.1 252.6 1609.1 252.1 1611.0 251.7 1613.0 251.3 1614.9 250.9 1616.9 250.5 1618.9 250.1 1620.8 249.6 1622.8 249.2 1624.7 248.8 1626.7 248.4 1628.7 248.0 1630.6 247.7 1632.6 247.3 1634.6 246.9 1636.5 246.5 1638.5 246.1 1640.5 245.8 1642.4 245.4 1644.4 245.0 1646.4 244.7 1648.3 244.3 1650.3 244.0 1652.3 243.6 1654.2 243.2 1656.2 242.9 1658.2 242.5 1660.2 242.2 1662.1 241.8 1664.1 241.5 1666.1 241.1 1668.0 240.8 1670.0 240.4 1672.0 240.1 1674.0 239.7 1675.9 239.4 1677.9 239.0 1679.9 238.7 1681.8 238.3 1683.8 238.0 1685.8 237.6 1687.8 237.2 1689.7 236.9 1691.7 236.5 1693.7 236.1 1695.6 235.7 1697.6 235.4 1699.6 235.0 1701.5 234.6 1703.5 234.2 1705.5 233.8 1707.4 233.4 1709.4 232.9 1711.4 232.5 1713.3 232.1 1715.3 231.7 1717.2 231.2 1719.2 230.8 1721.2 230.3 1723.1 229.9 1725.1 229.4 1727.0 228.9 1729.0 228.4 1730.9 227.9 1732.9 227.4 1734.8 226.9 1736.7 226.4 1738.7 225.9 1740.6 225.3 1742.5 224.8 1744.5 224.2 1746.4 223.6 1748.3 223.0 1750.2 222.4 1752.1 221.8 1754.0 221.2 1755.9 220.6 1757.8 219.9 1759.7 219.3 1761.6 218.6 1763.4 217.9 1765.3 217.2 1767.2 216.5 1769.0 215.8 1770.9 215.0 1772.7 214.2 1774.6 213.5 1776.4 212.7 1778.2 211.9 1780.0 211.0 1781.8 210.2 1783.6 209.3 1785.4 208.4 1787.2 207.5 1788.9 206.6 1790.7 205.7 1790.9 207.7 1791.0 209.7 1791.2 211.7 1791.3 213.7 1791.4 215.7 1791.5 217.7 1791.6 219.7 1791.6 221.7 1791.7 223.7 1791.7 225.6 1791.8 227.6 1791.8 229.6 1791.8 231.6 1791.8 233.6 1791.8 235.6 1791.8 237.6 1791.7 239.6 1791.7 241.6 1791.6 243.5 1791.6 245.5 1791.5 247.5 1791.4 249.5 1791.3 251.5 1791.2 253.5 1791.1 255.5 1791.0 257.5 1790.8 259.4 1790.7 261.4 1790.6 263.4 1790.4 265.4 1790.3 267.4 1790.1 269.4 1789.9 271.4 1789.8 273.4 1789.6 275.4 1789.4 277.4 1789.2 279.4 1789.0 281.4 1788.8 283.4 1788.6 285.4 1788.4 287.4 1788.1 289.4 1787.9 291.4 1787.7 293.4 1787.4 295.4 1787.2 297.4 1786.9 299.4 1786.7 301.4 1786.4 303.4 1786.1 305.4 1785.8 307.4 1785.5 309.4 1785.2 311.4 1784.9 313.4 1784.5 315.4 1784.2 317.4 1783.8 319.4 1783.5 321.4 1783.1 323.3 1782.7 325.3 1782.2 327.3 1781.8 329.2 1781.4 331.2 1780.9 333.1 1780.4 335.1 1779.9 337.0 1779.4 338.9 1778.8 340.9 1778.3 342.8 1777.7 344.7 1777.1 346.6 1776.5 348.5 1775.9 350.3 1775.2 352.2 1774.5 354.1 1773.8 355.9 1773.1 357.8 1772.4 359.6 1771.6 361.4 1770.8 363.2 1770.0 365.0 1769.1 366.8 1768.3 368.6 1767.4 370.4 1766.5 372.1 1765.5 373.9 1764.5 375.6 1763.6 377.3 1762.5 379.0 1761.5 380.7 1760.5 382.4 1759.4 384.1 1758.3 385.8 1757.2 387.4 1756.1 389.1 1754.9 390.7 1753.8 392.4 1752.6 394.0 1751.4 395.6 1750.2 397.2 1749.0 398.8 1747.7 400.4 1746.5 402.0 1745.2 403.6 1744.0 405.2 1742.7 406.7 1741.4 408.3 1740.1 409.8 1738.8 411.4 1737.5 412.9 1736.2 414.5 1734.9 416.0 1733.5 417.5 1732.2 419.0 1730.9 420.6 1729.5 422.1 1728.2 423.6 1726.8 425.1 1725.5 426.6 1724.1 428.1 1722.8 429.6 1721.4 431.1 1720.1 432.6 1718.7 434.0 1717.4 435.5 1716.0 437.0 1714.6 438.5 1713.3 439.9 1711.9 441.4 1710.5 442.8 1709.1 444.3 1707.7 445.7 1706.3 447.1 1704.9 448.5 1703.5 449.9 1702.1 451.3 1700.7 452.7 1699.3 454.1 1697.8 455.5 1696.4 456.9 1694.9 458.2 1693.5 459.6 1692.0 460.9 1690.5 462.3 1689.0 463.6 1687.5 464.9 1686.0 466.2 1684.5 467.5 1683.0 468.8 1681.5 470.0 1679.9 471.3 1678.4 472.6 1676.8 473.8 1675.3 475.0 1673.7 476.3 1672.1 477.5 1670.6 478.7 1669.0 479.9 1667.4 481.1 1665.8 482.3 1664.2 483.4 1662.5 484.6 1660.9 485.8 1659.3 486.9 1657.6 488.0 1656.0 489.2 1654.3 490.3 1652.7 491.4 1651.0 492.5 1649.3 493.6 1647.7 494.7 1646.0 495.8 1644.3 496.9 1642.6 497.9 1640.9 499.0 1639.2 500.1 1637.5 501.1 1635.8 502.1 1634.1 503.2 1632.3 504.2 1630.6 505.2 1628.9 506.2 1627.1 507.2 1625.4 508.2 1623.7 509.2 1621.9 510.2 1620.2 511.2 1618.4 512.1 1616.6 513.1 1614.9 514.1 1613.1 515.0 1611.3 515.9 1609.6 516.9 1607.8 517.8 1606.0 518.7 1604.2 519.7 1602.4 520.6 1600.6 521.5 1598.9 522.4 1597.1 523.3 1595.3 524.2 1593.5 525.1 1591.7 525.9 1589.9 526.8 1588.1 527.7 1586.3 528.5 1584.4 529.4 1582.6 530.3 1580.8 531.1 1579.0 531.9 1577.2 532.8 1575.4 533.6 1573.5 534.4 1571.7 535.3 1569.9 536.1 1568.1 536.9 1566.2 537.7 1564.4 538.5 1562.6 539.3 1560.7 540.1 1558.9 540.8 1557.0 541.6 1555.2 542.4 1553.4 543.2 1551.5 543.9 1549.7 544.7 1547.8 545.4 1546.0 546.2 1544.1 546.9 1542.2 547.6 1540.4 548.4 1538.5 549.1 1536.7 549.8 1534.8 550.5 1532.9 551.2 1531.1 551.9 1529.2 552.6 1527.3 553.3 1525.4 554.0 1523.6 554.7 1521.7 555.4 1519.8 556.0 1517.9 556.7 1516.0 557.4 1514.1 558.0 1512.3 558.7 1510.4 559.3 1508.5 559.9 1506.6 560.6 1504.7 561.2 1502.8 561.8 1500.9 562.5 1499.0 563.1 1497.1 563.7 1495.2 564.3 1493.3 564.9 1491.4 565.5 1489.5 566.1 1487.6 566.7 1485.7 567.2 1483.7 567.8 1481.8 568.4 1479.9 569.0 1478.0 569.5 1476.1 570.1 1474.2 570.6 1472.2 571.2 1470.3 571.7 1468.4 572.3 1466.5 572.8 1464.5 573.4 1462.6 573.9 1460.7 574.4 1458.8 575.0 1456.8 575.5 1454.9 576.0 1453.0 576.5 1451.0 577.0 1449.1 577.6 1447.2 578.1 1445.2 578.6 1443.3 579.1 1441.3 579.6 1439.4 580.1 1437.5 580.6 1435.5 581.1 1433.6 581.6 1431.6 582.0 1429.7 582.5 1427.7 583.0 1425.8 583.5 1423.8 584.0 1421.9 584.5 1420.0 584.9 1418.0 585.4 1416.1 585.9 1414.1 586.4 1412.2 586.8 1410.2 587.3 1408.3 587.8 1406.3 588.3 1404.4 588.7 1402.4 589.2 1400.5 589.7 1398.5 590.2 1396.6 590.6 1394.6 591.1 1392.7 591.6 1390.7 592.1 1388.8 592.6 1386.8 593.1 1384.9 593.6 1382.9 594.1 1381.0 594.6 1379.1 595.1 1377.1 595.6 1375.2 596.1 1373.3 596.7 1371.4 597.2 1369.4 597.7 1367.5 598.3 1365.6 598.9 1363.7 599.4 1361.8 600.0 1359.8 600.6 1357.9 601.2 1356.0 601.8 1354.1 602.4 1352.2 603.0 1350.3 603.6 1348.5 604.3 1346.6 604.9 1344.7 605.6 1342.8 606.2 1340.9 606.9 1339.1 607.6 1337.2 608.3 1335.4 609.1 1333.5 609.8 1331.7 610.5 1329.8 611.3 1328.0 612.1 1326.2 612.9 1324.3 613.7 1322.5 614.5 1320.7 615.4 1318.9 616.2 1317.1 617.1 1315.3 618.0 1313.5 618.8 1311.7 619.8 1310.0 620.7 1308.2 621.6 1306.4 622.6 1304.7 623.5 1303.0 624.5 1301.2 625.5 1299.5 626.5 1297.8 627.5 1296.1 628.6 1294.4 629.6 1292.7 630.7 1291.0 631.8 1289.3 632.9 1287.6 634.0 1286.0 635.1 1284.3 636.2 1282.7 637.4 1281.1 638.5 1279.4 639.7 1277.8 640.9 1276.2 642.1 1274.6 643.3 1273.1 644.5 1271.5 645.8 1269.9 647.0 1268.4 648.3 1266.9 649.6 1265.3 650.8 1263.8 652.1 1262.3 653.5 1260.8 654.8 1259.4 656.1 1257.9 657.5 1256.4 658.9 1255.0 660.2 1253.6 661.6 1252.1 663.0 1250.7 664.4 1249.4 665.9 1248.0 667.3 1246.6 668.8 1245.3 670.2 1243.9 671.7 1242.6 673.2 1241.3 674.7 1240.0 676.2 1238.7 677.7 1237.5 679.3 1236.2 680.8 1235.0 682.4 1233.7 684.0 1232.5 685.5 1231.3 687.1 1230.1 688.7 1228.9 690.3 1227.7 691.9 1226.5 693.5 1225.4 695.2 1224.2 696.8 1223.1 698.4 1221.9 700.1 1220.8 701.7 1219.6 703.4 1218.5 705.1 1217.4 706.7 1216.3 708.4 1215.2 710.1 1214.0 711.7 1212.9 713.4 1211.8 715.1 1210.7 716.8 1209.6 718.5 1208.5 720.1 1207.4 721.8 1206.3 723.5 1205.2 725.2 1204.1 726.9 1203.0 728.6 1201.9 730.2 1200.8 731.9 1199.7 733.6 1198.5 735.3 1197.4 737.0 1196.3 738.6 1195.2 740.3 1194.0 742.0 1192.9 743.6 1191.7 745.3 1190.6 746.9 1189.4 748.6 1188.2 750.2 1187.1 751.8 1185.9 753.4 1184.7 755.1 1183.5 756.7 1182.2 758.3 1181.0 759.9 1179.8 761.4 1178.5 763.0 1177.2 764.6 1176.0 766.1 1174.7 767.7 1173.4 769.2 1172.0 770.7 1170.7 772.2 1169.4 773.7 1168.0 775.2 1166.6 776.7 1165.2 778.1 1163.8 779.6 1162.4 781.0 1160.9 782.4 1159.4 783.8 1158.0 785.2 1156.4 786.6 1154.9 787.9 1153.4 789.3 1151.8 790.6 1150.2 791.8 1148.6 793.0 1147.0 794.2 1145.3 795.2 1143.7 796.3 1142.0 797.2 1140.3 798.1 1138.5 798.8 1136.8 799.5 1135.0 800.1 1133.2 800.6 1131.4 800.9 1129.6 801.1 1127.8 801.3 1125.9 801.2 1124.0 801.1 1122.2 800.8 1120.3 800.4 1118.4 799.9 1116.5 799.2 1114.6 798.5 1112.7 797.7 1110.8 796.9 1108.9 795.9 1107.1 794.9 1105.3 793.9 1103.5 792.7 1101.7 791.6 1100.0 790.4 1098.3 789.2 1096.7 787.9 1095.1 786.7 1093.5 785.4 1092.0 784.1 1090.4 782.7 1089.0 781.4 1087.5 780.0 1086.1 778.6 1084.7 777.1 1083.3 775.7 1081.9 774.3 1080.6 772.8 1079.2 771.3 1077.9 769.8 1076.6 768.3 1075.3 766.8 1074.0 765.3 1072.8 763.7 1071.5 762.2 1070.3 760.6 1069.0 759.1 1067.8 757.5 1066.5 756.0 1065.3 754.4 1064.1 752.9 1062.8 751.3 1061.6 749.7 1060.3 748.2 1059.1 746.6 1057.8 745.1 1056.5 743.6 1055.2 742.0 1053.9 740.5 1052.6 739.0 1051.3 737.5 1049.9 736.0 1048.5 734.6 1047.1 733.1 1045.7 731.7 1044.3 730.2 1042.9 728.8 1041.4 727.4 1039.9 726.0 1038.5 724.7 1037.0 723.3 1035.4 722.0 1033.9 720.6 1032.4 719.3 1030.8 718.0 1029.2 716.8 1027.6 715.5 1026.0 714.3 1024.4 713.1 1022.8 711.9 1021.2 710.7 1019.5 709.5 1017.8 708.4 1016.2 707.2 1014.5 706.1 1012.8 705.1 1011.1 704.0 1009.4 703.0 1007.6 701.9 1005.9 700.9 1004.2 700.0 1002.4 699.0 1000.6 698.1 998.9 697.2 997.1 696.3 995.3 695.4 993.5 694.6 991.7 693.8 989.9 693.0 988.1 692.2 986.2 691.4 984.4 690.7 982.5 690.0 980.7 689.3 978.8 688.6 977.0 688.0 975.1 687.4 973.2 686.7 971.4 686.1 969.5 685.6 967.6 685.0 965.7 684.5 963.8 683.9 961.9 683.4 959.9 682.9 958.0 682.5 956.1 682.0 954.2 681.5 952.2 681.1 950.3 680.7 948.3 680.3 946.4 679.9 944.4 679.5 942.5 679.1 940.5 678.8 938.6 678.5 936.6 678.1 934.6 677.8 932.6 677.5 930.7 677.2 928.7 676.9 926.7 676.6 924.7 676.4 922.7 676.1 920.7 675.9 918.7 675.6 916.8 675.4 914.8 675.2 912.8 675.0 910.8 674.8 908.8 674.6 906.8 674.4 904.7 674.2 902.7 674.0 900.7 673.8 898.7 673.6 896.7 673.5 894.7 673.3 892.7 673.1 890.7 673.0 888.7 672.8 886.7 672.7 884.7 672.6 882.7 672.4 880.6 672.3 878.6 672.2 876.6 672.1 874.6 672.0 872.6 671.9 870.6 671.8 868.6 671.7 866.5 671.6 864.5 671.5 862.5 671.4 860.5 671.4 858.5 671.3 856.5 671.2 854.5 671.2 852.5 671.1 850.4 671.1 848.4 671.1 846.4 671.0 844.4 671.0 842.4 671.0 840.4 671.0 838.4 671.0 836.3 671.0 834.3 671.0 832.3 671.0 830.3 671.1 828.3 671.1 826.3 671.1 824.3 671.2 822.3 671.2 820.3 671.3 818.3 671.3 816.2 671.4 814.2 671.5 812.2 671.6 810.2 671.7 808.2 671.8 806.2 671.9 804.2 672.0 802.2 672.1 800.2 672.3 798.2 672.4 796.2 672.6 794.2 672.7 792.2 672.9 790.2 673.0 788.2 673.2 786.2 673.4 784.3 673.6 782.3 673.8 780.3 674.0 778.3 674.2 776.3 674.4 774.3 674.7 772.3 674.9 770.3 675.2 768.4 675.4 766.4 675.7 764.4 676.0 762.4 676.2 760.5 676.5 758.5 676.8 756.5 677.1 754.5 677.5 752.6 677.8 750.6 678.1 748.6 678.5 746.7 678.8 744.7 679.2 742.8 679.5 740.8 679.9 738.8 680.3 736.9 680.7 734.9 681.1 733.0 681.5 731.0 682.0 729.1 682.4 727.2 682.8 725.2 683.3 723.3 683.7 721.3 684.2 719.4 684.7 717.5 685.2 715.5 685.7 713.6 686.2 711.7 686.7 709.8 687.2 707.9 687.8 705.9 688.3 704.0 688.9 702.1 689.5 700.2 690.0 698.3 690.6 696.4 691.2 694.5 691.8 692.6 692.5 690.7 693.1 688.8 693.7 686.9 694.4 685.0 695.0 683.2 695.7 681.3 696.4 679.4 697.1 677.5 697.8 675.7 698.5 673.8 699.2 672.0 700.0 670.1 700.7 668.3 701.5 666.4 702.2 664.6 703.0 662.8 703.8 660.9 704.6 659.1 705.4 657.3 706.2 655.5 707.1 653.7 707.9 651.9 708.8 650.1 709.6 648.3 710.5 646.5 711.4 644.7 712.3 642.9 713.2 641.1 714.2 639.4 715.1 637.6 716.0 635.9 717.0 634.1 718.0 632.4 719.0 630.6 720.0 628.9 721.0 627.2 722.0 625.5 723.0 623.8 724.1 622.1 725.1 620.4 726.2 618.7 727.3 617.0 728.4 615.3 729.5 613.6 730.6 612.0 731.7 610.3 732.9 608.7 734.0 607.0 735.2 605.4 736.4 603.8 737.6 602.2 738.8 600.6 740.0 599.0 741.2 597.4 742.5 595.8 743.7 594.2 745.0 592.7 746.3 591.1 747.6 589.6 748.9 588.1 750.2 586.6 751.5 585.1 752.9 583.6 754.2 582.1 755.6 580.6 757.0 579.2 758.4 577.7 759.8 576.3 761.2 574.9 762.6 573.5 764.1 572.1 765.5 570.7 767.0 569.4 768.5 568.1 769.9 566.7 771.4 565.4 773.0 564.1 774.5 562.9 776.0 561.6 777.6 560.4 779.1 559.2 780.7 558.0 782.3 556.8 783.9 555.6 785.5 554.5 787.1 553.3 788.8 552.2 790.4 551.1 792.1 550.1 793.7 549.0 795.4 548.0 797.1 547.0 798.8 546.0 800.5 545.0 802.3 544.1 804.0 543.1 805.8 542.2 807.5 541.3 809.3 540.4 811.1 539.6 812.8 538.7 814.6 537.9 816.4 537.0 818.2 536.2 820.1 535.4 821.9 534.5 823.7 533.7 825.5 532.9 827.3 532.1 829.2 531.3 831.0 530.5 832.8 529.7 834.7 528.9 836.5 528.1 838.3 527.3 840.2 526.5 842.0 525.7 843.8 524.8 845.7 524.0 847.5 523.2 849.3 522.3 851.1 521.5 853.0 520.6 854.8 519.8 856.6 518.9 858.4 518.1 860.3 517.2 862.1 516.4 863.9 515.5 865.7 514.7 867.6 513.8 869.4 513.0 871.2 512.1 873.0 511.3 874.9 510.5 876.7 509.6 878.5 508.8 880.4 508.0 882.2 507.2 884.0 506.4 885.9 505.6 887.7 504.8 889.6 504.0 891.4 503.3 893.3 502.5 895.1 501.8 897.0 501.0 898.9 500.3 900.7 499.6 902.6 498.9 904.5 498.2 906.3 497.5 908.2 496.8 910.1 496.2 912.0 495.5 913.9 494.9 915.8 494.2 917.7 493.6 919.5 493.0 921.4 492.4 923.4 491.8 925.3 491.2 927.2 490.6 929.1 490.0 931.0 489.5 932.9 488.9 934.8 488.3 936.7 487.8 938.7 487.3 940.6 486.7 942.5 486.2 944.4 485.7 946.4 485.1 948.3 484.6 950.2 484.1 952.2 483.6 954.1 483.1 956.0 482.6 958.0 482.2 959.9 481.7 961.9 481.2 963.8 480.7 965.7 480.3 967.7 479.8 969.6 479.3 971.6 478.9 973.5 478.4 975.5 478.0 977.4 477.5 979.4 477.1 981.3 476.6 983.3 476.2 985.3 475.8 987.2 475.3 989.2 474.9 991.1 474.5 993.1 474.0 995.0 473.6 997.0 473.2 999.0 472.7 1000.9 472.3 1002.9 471.9 1004.8 471.5 1006.8 471.0 1008.7 470.6 1010.7 470.2 1012.7 469.8 1014.6 469.3 1016.6 468.9 1018.5 468.5 1020.5 468.0 1022.5 467.6 1024.4 467.2 1026.4 466.7 1028.3 466.3 1030.3 465.9 1032.2 465.4 1034.2 465.0 1036.1 464.5 1038.1 464.1 1040.0 463.6 1042.0 463.2 1043.9 462.7 1045.9 462.2 1047.8 461.8 1049.8 461.3 1051.7 460.8 1053.7 460.4 1055.6 459.9 1057.5 459.4 1059.5 458.9 1061.4 458.4 1063.3 457.9 1065.3 457.4 1067.2 456.9 1069.1 456.3 1071.1 455.8 1073.0 455.3 1074.9 454.7 1076.8 454.2 1078.7 453.6 1080.7 453.1 1082.6 452.5 1084.5 451.9 1086.4 451.3 1088.3 450.7 1090.2 450.1 1092.1 449.5 1094.0 448.9 1095.9 448.3 1097.8 447.7 1099.7 447.0 1101.6 446.4 1103.4 445.7 1105.3 445.0 1107.2 444.3 1109.1 443.6 1110.9 442.9 1112.8 442.2 1114.7 441.4 1116.5 440.7 1118.4 439.9 1120.2 439.1 1122.0 438.3 1123.9 437.5 1125.7 436.7 1127.5 435.8 1129.3 435.0 1131.1 434.1 1133.0 433.2 1134.8 432.3 1136.5 431.4 1138.3 430.4 1140.1 429.4 1141.9 428.5 1143.7 427.5 1145.4 426.4 1147.2 425.4 1148.9 424.3 1150.7 423.2 1152.4 422.1 1154.1 421.0 1155.8 419.8 1157.4 418.6 1159.0 417.4 1160.6 416.1 1162.1 414.8 1163.6 413.4 1164.9 412.0 1166.3 410.6 1167.5 409.1 1168.6 407.5 1169.7 406.0 1170.6 404.3 1171.5 402.6 1172.2"/>
<path stroke="#000000" stroke-width="7" d="M406.5 1056.5L406.6 1054.5 406.6 1052.5 406.7 1050.5 406.8 1048.5 406.9 1046.5 407.0 1044.5 407.1 1042.5 407.2 1040.5 407.3 1038.5 407.4 1036.5 407.5 1034.5 407.6 1032.5 407.7 1030.5 407.8 1028.5 407.9 1026.5 408.0 1024.5 408.1 1022.5 408.3 1020.5 408.4 1018.5 408.5 1016.5 408.6 1014.5 408.8 1012.5 408.9 1010.5 409.0 1008.5 409.2 1006.5 409.3 1004.5 409.5 1002.5 409.6 1000.5 409.7 998.5 409.9 996.5 410.0 994.5 410.2 992.5 410.4 990.5 410.5 988.5 410.7 986.5 410.8 984.5 411.0 982.5 411.2 980.5 411.3 978.5 411.5 976.5 411.7 974.5 411.9 972.5 412.0 970.5 412.2 968.5 412.4 966.6 412.6 964.6 412.8 962.6 413.0 960.6 413.2 958.6 413.4 956.6 413.5 954.6 413.7 952.6 413.9 950.6 414.1 948.6 414.3 946.6 414.5 944.6 414.7 942.6 414.9 940.7 415.2 938.7 415.4 936.7 415.6 934.7 415.8 932.7 416.0 930.7 416.2 928.7 416.4 926.7 416.6 924.7 416.9 922.7 417.1 920.7 417.3 918.8 417.5 916.8 417.8 914.8 418.0 912.8 418.2 910.8 418.4 908.8 418.7 906.8 418.9 904.8 419.1 902.8 419.4 900.9 419.6 898.9 419.8 896.9 420.1 894.9 420.3 892.9 420.5 890.9 420.8 888.9 421.0 886.9 421.3 885.0 421.5 883.0 421.7 881.0 422.0 879.0 422.2 877.0 422.5 875.0 422.7 873.0 423.0 871.0 423.2 869.1 423.5 867.1 423.7 865.1 424.0 863.1 424.2 861.1 424.5 859.1 424.7 857.1 425.0 855.1 425.2 853.2 425.5 851.2 425.7 849.2 426.0 847.2 426.3 845.2 426.5 843.2 426.8 841.2 427.0 839.3 427.3 837.3 427.5 835.3 427.8 833.3 428.1 831.3 428.3 829.3 428.6 827.3 428.8 825.3 429.1 823.4 429.4 821.4 429.6 819.4 429.9 817.4 430.1 815.4 430.4 813.4 430.7 811.4 430.9 809.5 431.2 807.5 431.4 805.5 431.7 803.5 432.0 801.5 432.2 799.5 432.5 797.5 432.7 795.6 433.0 793.6 433.3 791.6 433.5 789.6 433.8 787.6 434.0 785.6 434.3 783.6 434.5 781.6 434.8 779.7 435.1 777.7 435.3 775.7 435.6 773.7 435.8 771.7 436.1 769.7 436.4 767.7 436.6 765.8 436.9 763.8 437.2 761.8 437.4 759.8 437.7 757.8 438.0 755.8 438.2 753.8 438.5 751.9 438.7 749.9 439.0 747.9 439.3 745.9 439.6 743.9 439.8 741.9 440.1 739.9 440.4 738.0 440.6 736.0 440.9 734.0 441.2 732.0 441.5 730.0 441.7 728.0 442.0 726.1 442.3 724.1 442.6 722.1 442.9 720.1 443.2 718.1 443.4 716.1 443.7 714.2 444.0 712.2 444.3 710.2 444.6 708.2 444.9 706.2 445.2 704.3 445.5 702.3 445.8 700.3 446.1 698.3 446.4 696.3 446.7 694.4 447.0 692.4 447.3 690.4 447.6 688.4 447.9 686.4 448.2 684.5 448.5 682.5 448.9 680.5 449.2 678.5 449.5 676.6 449.8 674.6 450.2 672.6 450.5 670.6 450.8 668.7 451.2 666.7 451.5 664.7 451.8 662.7 452.2 660.8 452.5 658.8 452.9 656.8 453.2 654.9 453.6 652.9 453.9 650.9 454.3 648.9 454.6 647.0 455.0 645.0 455.4 643.0 455.7 641.1 456.1 639.1 456.5 637.1 456.8 635.2 457.2 633.2 457.6 631.2 458.0 629.3 458.3 627.3 458.7 625.3 459.1 623.4 459.5 621.4 459.9 619.5 460.3 617.5 460.7 615.5 461.1 613.6 461.5 611.6 461.9 609.7 462.3 607.7 462.7 605.7 463.2 603.8 463.6 601.8 464.0 599.9 464.4 597.9 464.9 596.0 465.3 594.0 465.7 592.1 466.2 590.1 466.6 588.2 467.1 586.2 467.5 584.3 468.0 582.3 468.4 580.4 468.9 578.4 469.4 576.5 469.8 574.5 470.3 572.6 470.8 570.7 471.3 568.7 471.8 566.8 472.3 564.8 472.8 562.9 473.3 561.0 473.8 559.0 474.3 557.1 474.8 555.2 475.4 553.2 475.9 551.3 476.4 549.4 477.0 547.4 477.5 545.5 478.1 543.6 478.6 541.7 479.2 539.7 479.8 537.8 480.3 535.9 480.9 534.0 481.5 532.1 482.1 530.2 482.7 528.3 483.3 526.4 483.9 524.5 484.6 522.6 485.2 520.7 485.8 518.8 486.5 516.9 487.1 515.0 487.8 513.1 488.5 511.2 489.1 509.4 489.8 507.5 490.5 505.6 491.2 503.8 491.9 501.9 492.6 500.0 493.4 498.2 494.1 496.3 494.8 494.5 495.6 492.6 496.4 490.8 497.1 488.9 497.9 487.1 498.7 485.3 499.5 483.4 500.4 481.6 501.2 479.8 502.0 478.0 502.9 476.2 503.8 474.3 504.6 472.5 505.5 470.7 506.4 468.9 507.4 467.2 508.3 465.4 509.3 463.6 510.2 461.8 511.2 460.0 512.2 458.3 513.2 456.5 514.2 454.8 515.2 453.0 516.3 451.3 517.4 449.5 518.4 447.8 519.5 446.1 520.7 444.3 521.8 442.6 522.9 440.9 524.1 439.3 525.3 437.6 526.5 436.0 527.7 434.3 529.0 432.7 530.2 431.2 531.5 429.6 532.8 428.1 534.2 426.5 535.5 425.1 536.9 423.6 538.3 422.2 539.7 420.8 541.1 419.4 542.6 418.1 544.0 416.8 545.5 415.5 547.1 414.3 548.6 413.1 550.2 412.0 551.8 410.8 553.4 409.8 555.1 408.8 556.8 407.8 558.5 406.9 560.2 406.0 562.0 405.1 563.7 404.3 565.6 403.6 567.4 402.9 569.2 402.2 571.1 401.6 573.0 401.0 574.9 400.5 576.8 400.0 578.7 399.5 580.7 399.1 582.7 398.7 584.6 398.4 586.6 398.1 588.6 397.8 590.6 397.5 592.6 397.3 594.6 397.1 596.7 397.0 598.7 396.8 600.7 396.7 602.8 396.7 604.8 396.6 606.8 396.6 608.8 396.6 610.9 396.6 612.9 396.7 614.9 396.7 616.9 396.8 618.9 396.9 620.9 397.1 622.9 397.2 624.9 397.4 626.9 397.6 628.9 397.8 630.9 398.0 632.9 398.2 634.9 398.5 636.9 398.8 638.9 399.0 640.9 399.3 642.8 399.6 644.8 399.9 646.8 400.3 648.8 400.6 650.7 400.9 652.7 401.3 654.7 401.6 656.6 402.0 658.6 402.4 660.6 402.7 662.5 403.1 664.5 403.5 666.5 403.9 668.4 404.3 670.4 404.7 672.4 405.1 674.3 405.4 676.3 405.8 678.2 406.2 680.2 406.6 682.2 407.0 684.1 407.4 686.1 407.7 688.1 408.1 690.1 408.5 692.0 408.9 694.0 409.2 696.0 409.6 697.9 409.9 699.9 410.3 701.9 410.7 703.9 411.0 705.8 411.4 707.8 411.7 709.8 412.0 711.8 412.4 713.7 412.7 715.7 413.0 717.7 413.4 719.7 413.7 721.6 414.0 723.6 414.3 725.6 414.6 727.6 415.0 729.6 415.3 731.5 415.6 733.5 415.9 735.5 416.2 737.5 416.5 739.5 416.8 741.5 417.1 743.4 417.3 745.4 417.6 747.4 417.9 749.4 418.2 751.4 418.4 753.4 418.7 755.4 419.0 757.3 419.2 759.3 419.5 761.3 419.8 763.3 420.0 765.3 420.3 767.3 420.5 769.3 420.7 771.3 421.0 773.3 421.2 775.2 421.4 777.2 421.7 779.2 421.9 781.2 422.1 783.2 422.3 785.2 422.5 787.2 422.7 789.2 422.9 791.2 423.1 793.2 423.3 795.2 423.5 797.2 423.7 799.2 423.9 801.2 424.1 803.1 424.3 805.1 424.4 807.1 424.6 809.1 424.8 811.1 424.9 813.1 425.1 815.1 425.2 817.1 425.4 819.1 425.5 821.1 425.7 823.1 425.8 825.1 425.9 827.1 426.1 829.1 426.2 831.1 426.3 833.1 426.4 835.1 426.5 837.1 426.6 839.1 426.8 841.1 426.9 843.1 426.9 845.1 427.0 847.1 427.1 849.1 427.2 851.1 427.3 853.1 427.4 855.1 427.4 857.1 427.5 859.1 427.6 861.1 427.6 863.1 427.7 865.1 427.7 867.1 427.8 869.1 427.8 871.1 427.8 873.1 427.9 875.1 427.9 877.1 427.9 879.1 427.9 881.1 427.9 883.1 428.0 885.1 428.0 887.1 428.0 889.1 427.9 891.1 427.9 893.1 427.9 895.1 427.9 897.1 427.9 899.1 427.9 901.1 427.8 903.1 427.8 905.1 427.7 907.1 427.7 909.1 427.6 911.1 427.6 913.1 427.5 915.1 427.4 917.1 427.4 919.1 427.3 921.1 427.2 923.1 427.1 925.1 427.0 927.1 426.9 929.1 426.8 931.1 426.7 933.1 426.6 935.1 426.5 937.1 426.4 939.1 426.3 941.1 426.1 943.1 426.0 945.1 425.9 947.1 425.7 949.1 425.6 951.1 425.4 953.1 425.2 955.1 425.1 957.1 424.9 959.1 424.7 961.1 424.6 963.1 424.4 965.1 424.2 967.1 424.0 969.1 423.8 971.1 423.7 973.0 423.5 975.0 423.3 977.0 423.1 979.0 422.9 981.0 422.7 983.0 422.5 985.0 422.3 987.0 422.1 989.0 421.9 991.1 421.7 993.1 421.5 995.1 421.3 997.1 421.1 999.1 420.9 1001.1 420.7 1003.1 420.5 1005.1 420.3 1007.1 420.1 1009.1 419.8 1011.1 419.6 1013.1 419.4 1015.1 419.1 1017.1 418.9 1019.1 418.7 1021.0 418.4 1023.0 418.1 1025.0 417.9 1027.0 417.6 1029.0 417.3 1031.0 417.0 1033.0 416.7 1034.9 416.4 1036.9 416.1 1038.9 415.7 1040.9 415.4 1042.8 415.0 1044.8 414.6 1046.8 414.2 1048.7 413.9 1050.7 413.4 1052.6 413.0 1054.6 412.6 1056.5 412.2 1058.5 411.7 1060.4 411.2 1062.3 410.8 1064.3 410.3 1066.2 409.8 1068.1 409.3 1070.1 408.8 1072.0 408.2 1073.9 407.7 1075.8 407.2 1077.8 406.6 1079.7 406.1 1081.6 405.5 1083.5 404.9 1085.4 404.3 1087.3 403.8 1089.2 403.2 1091.1 402.5 1093.0 401.9 1094.9 401.3 1096.8 400.7 1098.7 400.1 1100.6 399.4 1102.5 398.8 1104.4 398.1 1106.3 397.5 1108.2 396.8 1110.1 396.2 1112.0 395.5 1113.9 394.8 1115.7 394.1 1117.6 393.4 1119.5 392.8 1121.4 392.1 1123.3 391.4 1125.1 390.7 1127.0 390.0 1128.9 389.3 1130.8 388.6 1132.6 387.9 1134.5 387.1 1136.4 386.4 1138.3 385.7 1140.1 385.0 1142.0 384.3 1143.9 383.6 1145.8 382.8 1147.6 382.1 1149.5 381.4 1151.4 380.7 1153.3 379.9 1155.1 379.2 1157.0 378.5 1158.9 377.8 1160.7 377.1 1162.6 376.3 1164.5 375.6 1166.3 374.9 1168.2 374.2 1170.1 373.5 1172.0 372.7 1173.8 372.0 1175.7 371.3 1177.6 370.6 1179.4 369.9 1181.3 369.2 1183.2 368.4 1185.1 367.7 1186.9 367.0 1188.8 366.3 1190.7 365.6 1192.5 364.9 1194.4 364.2 1196.3 363.4 1198.2 362.7 1200.0 362.0 1201.9 361.3 1203.8 360.6 1205.7 359.9 1207.5 359.2 1209.4 358.5 1211.3 357.8 1213.2 357.1 1215.0 356.4 1216.9 355.7 1218.8 355.0 1220.7 354.3 1222.5 353.6 1224.4 352.9 1226.3 352.2 1228.2 351.5 1230.0 350.8 1231.9 350.1 1233.8 349.4 1235.7 348.7 1237.5 348.0 1239.4 347.4 1241.3 346.7 1243.2 346.0 1245.1 345.3 1247.0 344.6 1248.8 343.9 1250.7 343.3 1252.6 342.6 1254.5 341.9 1256.4 341.2 1258.3 340.6 1260.1 339.9 1262.0 339.2 1263.9 338.5 1265.8 337.9 1267.7 337.2 1269.6 336.6 1271.5 335.9 1273.3 335.2 1275.2 334.6 1277.1 333.9 1279.0 333.3 1280.9 332.6 1282.8 332.0 1284.7 331.3 1286.6 330.7 1288.5 330.0 1290.4 329.4 1292.3 328.7 1294.2 328.1 1296.1 327.5 1298.0 326.8 1299.9 326.2 1301.8 325.5 1303.7 324.9 1305.6 324.3 1307.5 323.6 1309.4 323.0 1311.3 322.4 1313.2 321.8 1315.1 321.1 1317.0 320.5 1318.9 319.9 1320.8 319.3 1322.7 318.6 1324.6 318.0 1326.5 317.4 1328.4 316.8 1330.3 316.2 1332.2 315.6 1334.1 314.9 1336.0 314.3 1337.9 313.7 1339.8 313.1 1341.7 312.5 1343.7 311.9 1345.6 311.3 1347.5 310.6 1349.4 310.0 1351.3 309.4 1353.2 308.8 1355.1 308.2 1357.0 307.6 1358.9 307.0 1360.8 306.4 1362.7 305.8 1364.6 305.2 1366.6 304.6 1368.5 304.0 1370.4 303.4 1372.3 302.8 1374.2 302.2 1376.1 301.5 1378.0 300.9 1379.9 300.3 1381.8 299.7 1383.8 299.1 1385.7 298.5 1387.6 297.9 1389.5 297.3 1391.4 296.7 1393.3 296.1 1395.2 295.5 1397.1 294.9 1399.0 294.3 1401.0 293.7 1402.9 293.1 1404.8 292.5 1406.7 291.9 1408.6 291.3 1410.5 290.7 1412.4 290.0 1414.3 289.4 1416.2 288.8 1418.1 288.2 1420.1 287.6 1422.0 287.0 1423.9 286.4 1425.8 285.8 1427.7 285.2 1429.6 284.6 1431.5 284.0 1433.4 283.4 1435.3 282.8 1437.2 282.2 1439.2 281.6 1441.1 280.9 1443.0 280.3 1444.9 279.7 1446.8 279.1 1448.7 278.5 1450.6 277.9 1452.5 277.3 1454.4 276.7 1456.3 276.1 1458.3 275.5 1460.2 274.9 1462.1 274.3 1464.0 273.7 1465.9 273.1 1467.8 272.5 1469.7 271.9 1471.6 271.3 1473.5 270.7 1475.4 270.1 1477.4 269.5 1479.3 268.9 1481.2 268.3 1483.1 267.7 1485.0 267.1 1486.9 266.5 1488.8 265.9 1490.7 265.3 1492.6 264.7 1494.5 264.1 1496.5 263.5 1498.4 262.9 1500.3 262.3 1502.2 261.7 1504.1 261.1 1506.0 260.5 1507.9 259.9 1509.8 259.3 1511.7 258.7 1513.7 258.1 1515.6 257.6 1517.5 257.0 1519.4 256.4 1521.3 255.8 1523.2 255.2 1525.1 254.6 1527.0 254.0 1529.0 253.4 1530.9 252.9 1532.8 252.3 1534.7 251.7 1536.6 251.1 1538.5 250.5 1540.4 249.9 1542.3 249.3 1544.3 248.8 1546.2 248.2 1548.1 247.6 1550.0 247.0 1551.9 246.4 1553.8 245.9 1555.7 245.3 1557.6 244.7 1559.6 244.1 1561.5 243.5 1563.4 242.9 1565.3 242.4 1567.2 241.8 1569.1 241.2 1571.0 240.6 1573.0 240.0 1574.9 239.5 1576.8 238.9 1578.7 238.3 1580.6 237.7 1582.5 237.1 1584.4 236.5 1586.4 236.0 1588.3 235.4 1590.2 234.8 1592.1 234.2 1594.0 233.6 1595.9 233.1 1597.9 232.5 1599.8 231.9 1601.7 231.3 1603.6 230.7 1605.5 230.1 1607.4 229.5 1609.3 229.0 1611.3 228.4 1613.2 227.8 1615.1 227.2 1617.0 226.6 1618.9 226.0 1620.9 225.4 1622.8 224.9 1624.7 224.3 1626.6 223.7 1628.5 223.1 1630.4 222.5 1632.4 221.9 1634.3 221.3 1636.2 220.7 1638.1 220.1 1640.0 219.5 1642.0 218.9 1643.9 218.3 1645.8 217.7 1647.7 217.1 1649.6 216.5 1651.5 215.9 1653.5 215.3 1655.4 214.7 1657.3 214.1 1659.2 213.5 1661.1 212.9 1663.0 212.2 1664.9 211.6 1666.8 211.0 1668.7 210.4 1670.7 209.7 1672.6 209.1 1674.5 208.5 1676.4 207.8 1678.3 207.2 1680.2 206.5 1682.1 205.9 1684.0 205.2 1685.9 204.6 1687.7 203.9 1689.6 203.2 1691.5 202.6 1693.4 201.9 1695.3 201.2 1697.2 200.5 1699.1 199.8 1700.9 199.1 1702.8 198.4 1704.7 197.7 1706.6 197.0 1708.4 196.3 1710.3 195.6 1712.2 194.8 1714.0 194.1 1715.9 193.4 1717.7 192.6 1719.6 191.9 1721.4 191.1 1723.3 190.3 1725.1 189.6 1727.0 188.8 1728.8 188.0 1730.6 187.2 1732.5 186.4 1734.3 185.6 1736.1 184.8 1737.9 184.0 1739.8 183.1 1741.6 182.3 1743.4 181.4 1745.2 180.6 1747.0 179.7 1748.8 178.9 1750.6 178.0 1752.4 177.1 1754.2 176.2 1755.9 175.3 1757.7 174.4 1759.5 173.5 1761.3 172.5 1763.0 171.6 1764.8 170.6 1766.5 169.7 1768.3 168.7 1770.0 167.7 1771.8 166.8 1773.5 165.8 1775.2 164.8 1777.0 163.7 1778.7 162.7 1780.4 161.7 1782.1 160.6 1783.8 159.6 1785.5 158.5 1785.5 160.5 1785.6 162.4 1785.6 164.4 1785.6 166.4 1785.6 168.3 1785.6 170.3 1785.6 172.3 1785.6 174.3 1785.6 176.3 1785.6 178.3 1785.6 180.3 1785.6 182.3 1785.6 184.3 1785.6 186.3 1785.5 188.3 1785.5 190.3 1785.4 192.3 1785.4 194.3 1785.3 196.4 1785.3 198.4 1785.2 200.4 1785.1 202.4 1785.0 204.4 1784.9 206.4 1784.8 208.5 1784.6 210.5 1784.5 212.5 1784.3 214.5 1784.2 216.5 1784.0 218.5 1783.8 220.5 1783.6 222.5 1783.4 224.6 1783.2 226.6 1782.9 228.6 1782.7 230.6 1782.4 232.6 1782.1 234.6 1781.8 236.5 1781.5 238.5 1781.2 240.5 1780.9 242.5 1780.5 244.5 1780.1 246.4 1779.7 248.4 1779.3 250.4 1778.9 252.3 1778.4 254.3 1778.0 256.2 1777.5 258.2 1777.0 260.1 1776.5 262.0 1775.9 263.9 1775.4 265.9 1774.8 267.8 1774.2 269.7 1773.6 271.6 1772.9 273.5 1772.3 275.3 1771.6 277.2 1770.9 279.1 1770.2 281.0 1769.5 282.8 1768.8 284.7 1768.0 286.5 1767.2 288.4 1766.5 290.2 1765.7 292.0 1764.8 293.8 1764.0 295.7 1763.2 297.5 1762.3 299.3 1761.4 301.1 1760.5 302.9 1759.6 304.6 1758.7 306.4 1757.7 308.2 1756.8 309.9 1755.8 311.7 1754.8 313.4 1753.8 315.2 1752.8 316.9 1751.8 318.6 1750.8 320.4 1749.7 322.1 1748.7 323.8 1747.6 325.5 1746.5 327.2 1745.4 328.8 1744.3 330.5 1743.2 332.2 1742.0 333.8 1740.9 335.5 1739.7 337.2 1738.6 338.8 1737.4 340.4 1736.2 342.1 1735.0 343.7 1733.8 345.3 1732.6 346.9 1731.3 348.5 1730.1 350.1 1728.8 351.6 1727.6 353.2 1726.3 354.8 1725.0 356.3 1723.7 357.9 1722.4 359.4 1721.1 361.0 1719.8 362.5 1718.5 364.0 1717.1 365.5 1715.8 367.0 1714.5 368.5 1713.1 370.0 1711.7 371.5 1710.4 373.0 1709.0 374.4 1707.6 375.9 1706.2 377.3 1704.8 378.8 1703.4 380.2 1702.0 381.6 1700.6 383.0 1699.2 384.4 1697.7 385.8 1696.3 387.2 1694.9 388.6 1693.4 390.0 1691.9 391.4 1690.5 392.7 1689.0 394.1 1687.5 395.4 1686.1 396.8 1684.6 398.1 1683.1 399.4 1681.6 400.7 1680.1 402.0 1678.6 403.3 1677.1 404.6 1675.5 405.9 1674.0 407.2 1672.5 408.4 1670.9 409.7 1669.4 410.9 1667.8 412.2 1666.3 413.4 1664.7 414.7 1663.1 415.9 1661.6 417.1 1660.0 418.3 1658.4 419.5 1656.8 420.7 1655.2 421.9 1653.6 423.1 1652.0 424.2 1650.4 425.4 1648.8 426.5 1647.2 427.7 1645.5 428.8 1643.9 430.0 1642.3 431.1 1640.6 432.2 1639.0 433.3 1637.3 434.4 1635.7 435.5 1634.0 436.6 1632.3 437.7 1630.7 438.8 1629.0 439.9 1627.3 440.9 1625.6 442.0 1623.9 443.0 1622.3 444.1 1620.6 445.1 1618.8 446.1 1617.1 447.2 1615.4 448.2 1613.7 449.2 1612.0 450.2 1610.3 451.2 1608.5 452.2 1606.8 453.2 1605.1 454.1 1603.3 455.1 1601.6 456.1 1599.8 457.0 1598.1 458.0 1596.3 458.9 1594.5 459.8 1592.8 460.8 1591.0 461.7 1589.2 462.6 1587.4 463.5 1585.7 464.4 1583.9 465.3 1582.1 466.2 1580.3 467.1 1578.5 468.0 1576.7 468.9 1574.9 469.7 1573.1 470.6 1571.3 471.4 1569.5 472.3 1567.6 473.1 1565.8 474.0 1564.0 474.8 1562.2 475.6 1560.3 476.4 1558.5 477.2 1556.6 478.0 1554.8 478.8 1553.0 479.6 1551.1 480.4 1549.3 481.2 1547.4 482.0 1545.5 482.7 1543.7 483.5 1541.8 484.2 1540.0 485.0 1538.1 485.7 1536.2 486.5 1534.3 487.2 1532.5 487.9 1530.6 488.7 1528.7 489.4 1526.8 490.1 1524.9 490.8 1523.0 491.5 1521.1 492.2 1519.3 492.9 1517.4 493.5 1515.5 494.2 1513.6 494.9 1511.6 495.6 1509.7 496.2 1507.8 496.9 1505.9 497.5 1504.0 498.2 1502.1 498.8 1500.2 499.4 1498.3 500.0 1496.3 500.7 1494.4 501.3 1492.5 501.9 1490.6 502.5 1488.6 503.1 1486.7 503.7 1484.8 504.3 1482.8 504.9 1480.9 505.4 1478.9 506.0 1477.0 506.6 1475.1 507.2 1473.1 507.7 1471.2 508.3 1469.2 508.8 1467.3 509.4 1465.3 509.9 1463.4 510.4 1461.4 511.0 1459.5 511.5 1457.5 512.0 1455.6 512.5 1453.6 513.0 1451.7 513.5 1449.7 514.0 1447.7 514.5 1445.8 515.0 1443.8 515.5 1441.9 516.0 1439.9 516.4 1437.9 516.9 1436.0 517.4 1434.0 517.8 1432.0 518.3 1430.1 518.8 1428.1 519.2 1426.1 519.6 1424.2 520.1 1422.2 520.5 1420.2 520.9 1418.2 521.4 1416.3 521.8 1414.3 522.2 1412.3 522.6 1410.4 523.0 1408.4 523.4 1406.4 523.8 1404.4 524.2 1402.5 524.6 1400.5 525.0 1398.5 525.4 1396.5 525.8 1394.6 526.1 1392.6 526.5 1390.6 526.9 1388.6 527.2 1386.7 527.6 1384.7 527.9 1382.7 528.3 1380.7 528.6 1378.8 529.0 1376.8 529.3 1374.8 529.6 1372.8 530.0 1370.9 530.3 1368.9 530.6 1366.9 530.9 1364.9 531.3 1363.0 531.6 1361.0 531.9 1359.0 532.2 1357.1 532.5 1355.1 532.8 1353.1 533.1 1351.1 533.4 1349.2 533.7 1347.2 534.0 1345.2 534.3 1343.2 534.6 1341.3 534.9 1339.3 535.2 1337.3 535.5 1335.3 535.8 1333.4 536.0 1331.4 536.3 1329.4 536.6 1327.4 536.9 1325.5 537.2 1323.5 537.4 1321.5 537.7 1319.5 538.0 1317.6 538.3 1315.6 538.5 1313.6 538.8 1311.6 539.1 1309.7 539.3 1307.7 539.6 1305.7 539.9 1303.8 540.1 1301.8 540.4 1299.8 540.7 1297.8 541.0 1295.9 541.2 1293.9 541.5 1291.9 541.8 1289.9 542.0 1288.0 542.3 1286.0 542.6 1284.0 542.8 1282.0 543.1 1280.1 543.4 1278.1 543.6 1276.1 543.9 1274.2 544.2 1272.2 544.5 1270.2 544.7 1268.2 545.0 1266.3 545.3 1264.3 545.6 1262.3 545.9 1260.3 546.1 1258.4 546.4 1256.4 546.7 1254.4 547.0 1252.5 547.3 1250.5 547.6 1248.5 547.9 1246.5 548.2 1244.6 548.5 1242.6 548.8 1240.6 549.1 1238.6 549.4 1236.7 549.7 1234.7 550.0 1232.7 550.3 1230.8 550.6 1228.8 550.9 1226.8 551.2 1224.8 551.6 1222.9 551.9 1220.9 552.2 1218.9 552.6 1217.0 552.9 1215.0 553.2 1213.0 553.6 1211.0 553.9 1209.1 554.3 1207.1 554.6 1205.1 555.0 1203.2 555.3 1201.2 555.7 1199.2 556.1 1197.3 556.5 1195.3 556.8 1193.3 557.2 1191.3 557.6 1189.4 558.0 1187.4 558.4 1185.4 558.8 1183.5 559.2 1181.5 559.6 1179.5 560.0 1177.6 560.4 1175.6 560.9 1173.6 561.3 1171.6 561.7 1169.7 562.1 1167.7 562.6 1165.7 563.0 1163.8 563.4 1161.8 563.8 1159.8 564.2 1157.8 564.6 1155.9 565.0 1153.9 565.3 1151.9 565.7 1149.9 566.0 1148.0 566.3 1146.0 566.6 1144.0 566.8 1142.0 567.1 1140.0 567.3 1138.0 567.5 1136.1 567.7 1134.1 567.8 1132.1 567.9 1130.1 568.0 1128.1 568.1 1126.1 568.2 1124.1 568.2 1122.1 568.3 1120.1 568.3 1118.1 568.3 1116.1 568.3 1114.1 568.3 1112.1 568.2 1110.1 568.2 1108.1 568.1 1106.1 568.1 1104.1 568.0 1102.1 567.9 1100.1 567.8 1098.1 567.7 1096.1 567.6 1094.1 567.5 1092.1 567.4 1090.1 567.3 1088.1 567.2 1086.1 567.1 1084.1 567.0 1082.0 566.9 1080.0 566.8 1078.0 566.7 1076.0 566.6 1074.0 566.5 1072.0 566.4 1070.0 566.3 1068.0 566.2 1066.0 566.1 1064.0 566.0 1062.0 565.9 1060.0 565.8 1058.0 565.7 1056.0 565.6 1054.0 565.5 1052.0 565.4 1050.0 565.3 1048.0 565.2 1046.0 565.1 1044.0 565.0 1042.0 564.9 1040.0 564.8 1038.0 564.7 1036.0 564.6 1034.0 564.5 1032.0 564.5 1030.0 564.4 1028.0 564.3 1026.0 564.2 1024.0 564.1 1022.0 564.0 1020.0 564.0 1018.0 563.9 1016.0 563.8 1014.0 563.7 1012.0 563.7 1010.0 563.6 1008.0 563.5 1006.0 563.4 1004.1 563.4 1002.1 563.3 1000.1 563.2 998.1 563.2 996.1 563.1 994.1 563.1 992.1 563.0 990.1 562.9 988.1 562.9 986.1 562.8 984.1 562.8 982.1 562.7 980.1 562.7 978.1 562.6 976.1 562.6 974.1 562.5 972.1 562.5 970.1 562.5 968.1 562.4 966.1 562.4 964.1 562.3 962.1 562.3 960.1 562.3 958.1 562.3 956.1 562.2 954.1 562.2 952.1 562.2 950.1 562.2 948.1 562.1 946.1 562.1 944.1 562.1 942.1 562.1 940.1 562.1 938.1 562.1 936.1 562.1 934.1 562.1 932.1 562.1 930.1 562.1 928.1 562.1 926.1 562.1 924.1 562.1 922.1 562.1 920.1 562.1 918.0 562.1 916.0 562.1 914.0 562.1 912.0 562.1 910.0 562.2 908.0 562.2 906.0 562.2 904.0 562.3 902.0 562.3 900.0 562.3 898.0 562.4 896.0 562.4 894.0 562.4 892.0 562.5 890.0 562.5 888.0 562.6 886.0 562.7 883.9 562.7 881.9 562.8 879.9 562.8 877.9 562.9 875.9 563.0 873.9 563.1 871.9 563.1 869.9 563.2 867.9 563.3 865.9 563.4 863.9 563.5 861.9 563.6 859.9 563.7 857.9 563.8 855.8 563.9 853.8 564.0 851.8 564.1 849.8 564.3 847.8 564.4 845.8 564.5 843.8 564.7 841.8 564.8 839.8 564.9 837.8 565.1 835.8 565.2 833.8 565.4 831.8 565.6 829.8 565.7 827.8 565.9 825.8 566.1 823.8 566.3 821.8 566.5 819.8 566.6 817.8 566.8 815.8 567.1 813.8 567.3 811.8 567.5 809.8 567.7 807.8 567.9 805.8 568.1 803.9 568.4 801.9 568.6 799.9 568.9 797.9 569.1 795.9 569.4 793.9 569.6 791.9 569.9 789.9 570.2 788.0 570.5 786.0 570.8 784.0 571.1 782.0 571.4 780.0 571.7 778.1 572.0 776.1 572.3 774.1 572.6 772.1 573.0 770.1 573.3 768.2 573.7 766.2 574.0 764.2 574.4 762.3 574.7 760.3 575.1 758.3 575.5 756.4 575.9 754.4 576.3 752.4 576.7 750.5 577.1 748.5 577.5 746.6 577.9 744.6 578.4 742.6 578.8 740.7 579.3 738.7 579.7 736.8 580.2 734.8 580.6 732.9 581.1 731.0 581.6 729.0 582.1 727.1 582.6 725.1 583.1 723.2 583.6 721.3 584.2 719.3 584.7 717.4 585.2 715.5 585.8 713.6 586.3 711.6 586.9 709.7 587.5 707.8 588.1 705.9 588.7 704.0 589.3 702.1 589.9 700.2 590.5 698.3 591.1 696.4 591.8 694.5 592.4 692.6 593.1 690.7 593.7 688.8 594.4 687.0 595.1 685.1 595.8 683.2 596.5 681.4 597.2 679.5 598.0 677.6 598.7 675.8 599.4 673.9 600.2 672.1 600.9 670.3 601.7 668.4 602.5 666.6 603.3 664.8 604.1 662.9 604.9 661.1 605.7 659.3 606.6 657.5 607.4 655.7 608.3 653.9 609.1 652.1 610.0 650.3 610.9 648.6 611.8 646.8 612.7 645.0 613.6 643.3 614.6 641.5 615.5 639.7 616.5 638.0 617.4 636.3 618.4 634.5 619.4 632.8 620.4 631.1 621.4 629.4 622.4 627.6 623.5 625.9 624.5 624.2 625.6 622.6 626.6 620.9 627.7 619.2 628.8 617.5 629.9 615.9 631.0 614.2 632.2 612.6 633.3 610.9 634.5 609.3 635.6 607.6 636.8 606.0 638.0 604.4 639.2 602.8 640.4 601.2 641.7 599.6 642.9 598.0 644.2 596.5 645.4 594.9 646.7 593.3 648.0 591.8 649.3 590.3 650.6 588.8 652.0 587.2 653.3 585.8 654.7 584.3 656.1 582.8 657.4 581.4 658.9 579.9 660.3 578.5 661.7 577.1 663.2 575.8 664.6 574.4 666.1 573.1 667.6 571.7 669.1 570.4 670.6 569.2 672.2 567.9 673.7 566.7 675.3 565.5 676.9 564.3 678.5 563.1 680.1 562.0 681.7 560.9 683.3 559.8 685.0 558.8 686.7 557.8 688.4 556.8 690.1 555.8 691.8 554.8 693.5 553.8 695.3 552.9 697.0 551.9 698.8 551.0 700.5 550.0 702.2 549.0 704.0 548.0 705.7 547.0 707.4 546.0 709.1 544.9 710.9 543.9 712.6 542.8 714.3 541.8 716.0 540.7 717.7 539.7 719.4 538.6 721.1 537.6 722.9 536.5 724.6 535.5 726.3 534.5 728.0 533.5 729.8 532.5 731.5 531.5 733.2 530.5 735.0 529.5 736.8 528.6 738.5 527.6 740.3 526.7 742.1 525.8 743.8 524.9 745.6 524.0 747.4 523.1 749.2 522.2 751.0 521.3 752.8 520.5 754.6 519.6 756.4 518.8 758.2 518.0 760.0 517.1 761.9 516.3 763.7 515.5 765.5 514.7 767.4 514.0 769.2 513.2 771.0 512.4 772.9 511.7 774.7 510.9 776.6 510.2 778.5 509.4 780.3 508.7 782.2 508.0 784.1 507.3 785.9 506.6 787.8 505.9 789.7 505.2 791.6 504.5 793.4 503.9 795.3 503.2 797.2 502.5 799.1 501.9 801.0 501.2 802.9 500.6 804.8 500.0 806.7 499.4 808.6 498.7 810.5 498.1 812.4 497.5 814.3 496.9 816.3 496.3 818.2 495.7 820.1 495.2 822.0 494.6 823.9 494.0 825.9 493.4 827.8 492.9 829.7 492.3 831.6 491.8 833.6 491.2 835.5 490.7 837.4 490.1 839.4 489.6 841.3 489.1 843.2 488.5 845.2 488.0 847.1 487.5 849.0 487.0 851.0 486.5 852.9 486.0 854.9 485.5 856.8 484.9 858.7 484.4 860.7 483.9 862.6 483.5 864.6 483.0 866.5 482.5 868.5 482.0 870.4 481.5 872.3 481.0 874.3 480.5 876.2 480.1 878.2 479.6 880.1 479.1 882.0 478.6 884.0 478.1 885.9 477.7 887.9 477.2 889.8 476.7 891.7 476.3 893.7 475.8 895.6 475.3 897.6 474.9 899.5 474.4 901.4 473.9 903.4 473.4 905.3 473.0 907.2 472.5 909.2 472.0 911.1 471.6 913.0 471.1 914.9 470.6 916.9 470.1 918.8 469.7 920.7 469.2 922.7 468.7 924.6 468.2 926.5 467.7 928.5 467.2 930.4 466.8 932.3 466.3 934.2 465.8 936.2 465.3 938.1 464.8 940.0 464.3 941.9 463.8 943.9 463.2 945.8 462.7 947.7 462.2 949.6 461.7 951.6 461.2 953.5 460.6 955.4 460.1 957.3 459.6 959.3 459.0 961.2 458.5 963.1 457.9 965.0 457.4 967.0 456.8 968.9 456.2 970.8 455.7 972.7 455.1 974.7 454.5 976.6 453.9 978.5 453.3 980.4 452.7 982.4 452.1 984.3 451.5 986.2 450.8 988.1 450.2 990.1 449.6 992.0 448.9 993.9 448.3 995.8 447.6 997.8 446.9 999.7 446.3 1001.6 445.6 1003.5 444.9 1005.5 444.2 1007.4 443.5 1009.3 442.7 1011.2 442.0 1013.2 441.3 1015.1 440.5 1017.0 439.8 1019.0 439.0 1020.9 438.2 1022.8 437.4 1024.7 436.6 1026.6 435.8 1028.5 434.9 1030.4 434.1 1032.3 433.2 1034.1 432.2 1035.9 431.2 1037.6 430.2 1039.3 429.2 1040.9 428.1 1042.5 426.9 1044.1 425.7 1045.6 424.5 1047.0 423.2 1048.3 421.8 1049.6 420.4 1050.8 418.9 1051.9 417.4 1052.9 415.8 1053.9 414.1 1054.7 412.3 1055.4 410.5 1055.9 408.5 1056.3 406.5 1056.5"/>
</g>
</svg></div>
</body></html>
